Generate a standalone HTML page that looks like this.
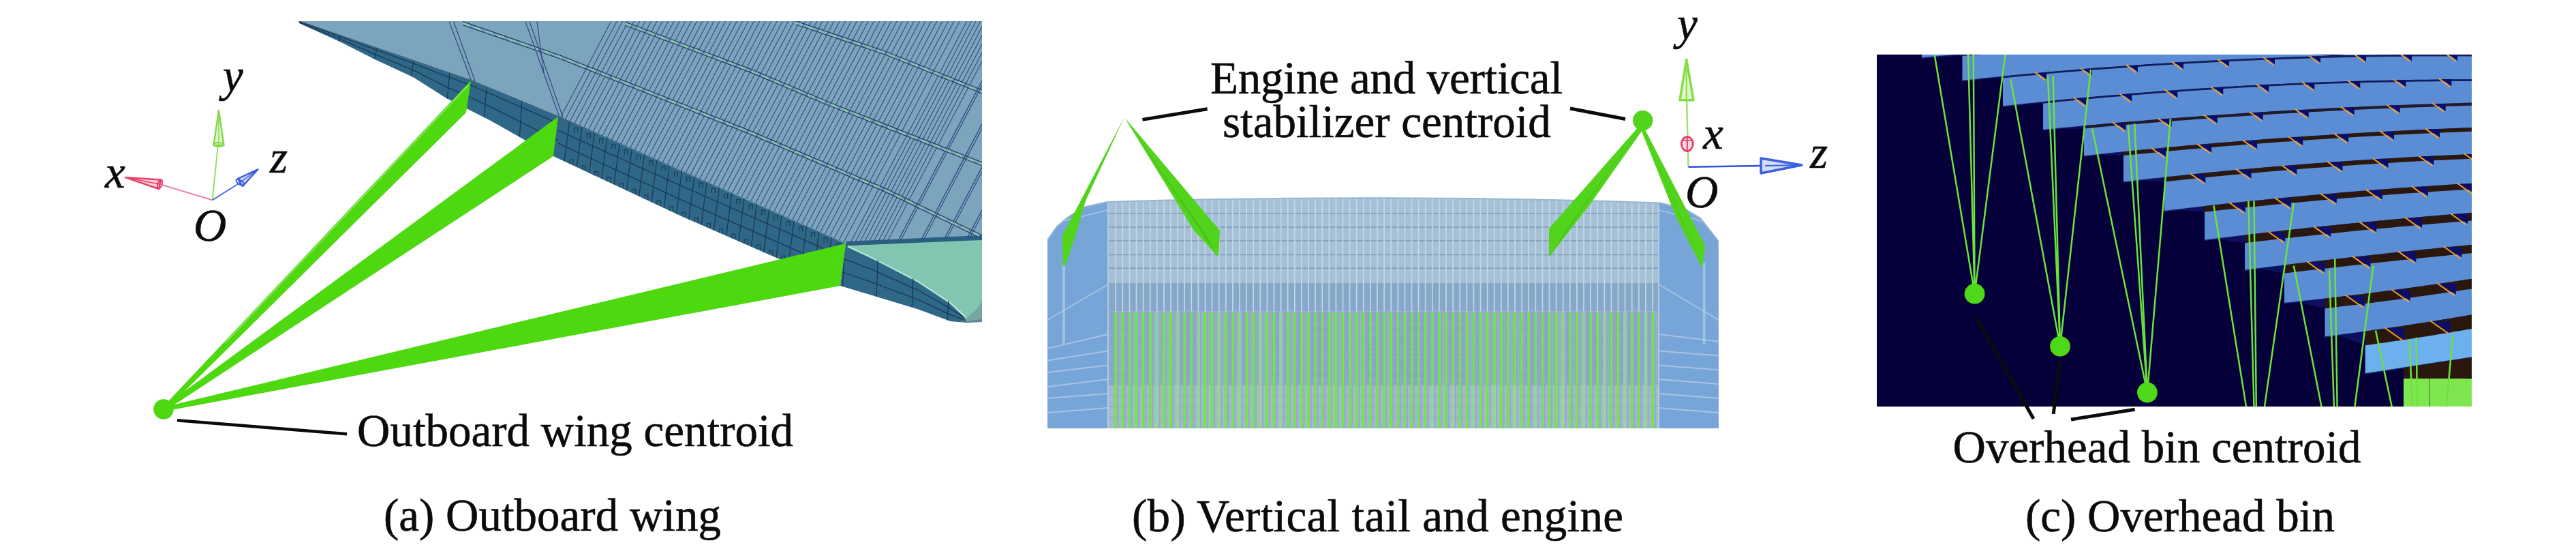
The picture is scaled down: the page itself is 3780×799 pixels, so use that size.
<!DOCTYPE html>
<html><head><meta charset="utf-8">
<style>
html,body{margin:0;padding:0;background:#fff;overflow:hidden;}
svg{display:block;}
text{font-family:"Liberation Serif",serif;font-size:67px;fill:#0b0b0b;stroke:#0b0b0b;stroke-width:0.6px;}
.it{font-style:italic;}
</style></head><body>
<svg width="3780" height="799" viewBox="0 0 3780 799">
<defs>
<clipPath id="cpA"><rect x="0" y="31" width="1441" height="460"/></clipPath>
<clipPath id="cpTop"><polygon points="438,31 1441,31 1441,347 1241,356 819,171 691,118"/></clipPath>
<clipPath id="cpFace"><polygon points="438,31 691,118 819,171 1241,357 1233,419 1000,317 812,229 720,177 655,144 606,113 551,87.4 500,61.7 439,34"/></clipPath>
<clipPath id="cpTip"><polygon points="1241,360 1283,378.5 1347.5,412 1394.5,443 1415,462 1418,472.5 1394.5,471 1347.5,453.4 1288.7,435.7 1233,419"/></clipPath>
<clipPath id="cpB"><path d="M1537,352 L1551,332 L1568,317.7 L1591.5,303.4 L1625,296 Q2030,284 2435.8,297.4 L2471.5,305.8 L2495.4,320 L2521.6,353.5 L2522,628 L1537,628 Z"/></clipPath>
<clipPath id="cpC"><rect x="2754" y="80" width="873" height="516"/></clipPath>
</defs>

<g id="pa">
<polygon points="438,31 1441,31 1441,350 1241,357 819,171 691,118" fill="#7AA5BC"/>
<polygon points="438,31 691,118 819,171 1241,357 1233,419 1000,317 812,229 720,177 655,144 606,113 551,87.4 500,61.7 439,34" fill="#2E6886"/>
<polygon points="1241,357 1441,350 1441,472 1418,473 1394.5,471 1347.5,453.4 1288.7,435.7 1233,419" fill="#2E6886"/>
<polygon points="1244,360 1441,352 1441,468 1425,470 1418,472 1415,462 1394.5,443 1347.5,412 1283,378.5" fill="#82C6B2"/>
<polyline points="1244,361 1283,379.5 1347.5,413 1394.5,444 1415,463 1418,471" fill="none" stroke="#B5E3D3" stroke-width="2.5"/>
<path d="M1410,472 Q1435,455 1441,440 L1441,472 Z" fill="#6F9A98" opacity="0.7"/>
<polygon points="1241,354 1441,345 1441,351 1243,360" fill="#2A5F80"/>
<g clip-path="url(#cpTop)"><line x1="822.4" y1="172.5" x2="896.9" y2="31.0" stroke="#3A4C82" stroke-width="1.15" opacity="1"/><line x1="829.2" y1="175.5" x2="905.3" y2="31.0" stroke="#3A4C82" stroke-width="1.15" opacity="1"/><line x1="836.0" y1="178.5" x2="913.6" y2="31.0" stroke="#3A4C82" stroke-width="1.15" opacity="1"/><line x1="842.8" y1="181.5" x2="922.0" y2="31.0" stroke="#3A4C82" stroke-width="1.15" opacity="1"/><line x1="849.6" y1="184.5" x2="930.4" y2="31.0" stroke="#3A4C82" stroke-width="1.15" opacity="1"/><line x1="856.4" y1="187.5" x2="938.8" y2="31.0" stroke="#3A4C82" stroke-width="1.15" opacity="1"/><line x1="863.2" y1="190.5" x2="947.2" y2="31.0" stroke="#3A4C82" stroke-width="1.15" opacity="1"/><line x1="870.0" y1="193.5" x2="955.6" y2="31.0" stroke="#3A4C82" stroke-width="1.15" opacity="1"/><line x1="876.9" y1="196.5" x2="964.0" y2="31.0" stroke="#3A4C82" stroke-width="1.15" opacity="1"/><line x1="883.7" y1="199.5" x2="972.3" y2="31.0" stroke="#3A4C82" stroke-width="1.15" opacity="1"/><line x1="890.5" y1="202.5" x2="980.7" y2="31.0" stroke="#3A4C82" stroke-width="1.15" opacity="1"/><line x1="897.3" y1="205.5" x2="989.1" y2="31.0" stroke="#3A4C82" stroke-width="1.15" opacity="1"/><line x1="904.1" y1="208.5" x2="997.5" y2="31.0" stroke="#3A4C82" stroke-width="1.15" opacity="1"/><line x1="910.9" y1="211.5" x2="1005.9" y2="31.0" stroke="#3A4C82" stroke-width="1.15" opacity="1"/><line x1="917.7" y1="214.5" x2="1014.3" y2="31.0" stroke="#3A4C82" stroke-width="1.15" opacity="1"/><line x1="924.5" y1="217.5" x2="1022.7" y2="31.0" stroke="#3A4C82" stroke-width="1.15" opacity="1"/><line x1="931.3" y1="220.5" x2="1031.0" y2="31.0" stroke="#3A4C82" stroke-width="1.15" opacity="1"/><line x1="938.1" y1="223.5" x2="1039.4" y2="31.0" stroke="#3A4C82" stroke-width="1.15" opacity="1"/><line x1="944.9" y1="226.5" x2="1047.8" y2="31.0" stroke="#3A4C82" stroke-width="1.15" opacity="1"/><line x1="951.7" y1="229.5" x2="1056.2" y2="31.0" stroke="#3A4C82" stroke-width="1.15" opacity="1"/><line x1="958.5" y1="232.5" x2="1064.6" y2="31.0" stroke="#3A4C82" stroke-width="1.15" opacity="1"/><line x1="965.3" y1="235.5" x2="1073.0" y2="31.0" stroke="#3A4C82" stroke-width="1.15" opacity="1"/><line x1="972.1" y1="238.5" x2="1081.4" y2="31.0" stroke="#3A4C82" stroke-width="1.15" opacity="1"/><line x1="979.0" y1="241.5" x2="1089.7" y2="31.0" stroke="#3A4C82" stroke-width="1.15" opacity="1"/><line x1="985.8" y1="244.5" x2="1098.1" y2="31.0" stroke="#3A4C82" stroke-width="1.15" opacity="1"/><line x1="992.6" y1="247.5" x2="1106.5" y2="31.0" stroke="#3A4C82" stroke-width="1.15" opacity="1"/><line x1="999.4" y1="250.5" x2="1114.9" y2="31.0" stroke="#3A4C82" stroke-width="1.15" opacity="1"/><line x1="1006.2" y1="253.5" x2="1123.3" y2="31.0" stroke="#3A4C82" stroke-width="1.15" opacity="1"/><line x1="1013.0" y1="256.5" x2="1131.7" y2="31.0" stroke="#3A4C82" stroke-width="1.15" opacity="1"/><line x1="1019.8" y1="259.5" x2="1140.1" y2="31.0" stroke="#3A4C82" stroke-width="1.15" opacity="1"/><line x1="1026.6" y1="262.5" x2="1148.4" y2="31.0" stroke="#3A4C82" stroke-width="1.15" opacity="1"/><line x1="1033.4" y1="265.5" x2="1156.8" y2="31.0" stroke="#3A4C82" stroke-width="1.15" opacity="1"/><line x1="1040.2" y1="268.5" x2="1165.2" y2="31.0" stroke="#3A4C82" stroke-width="1.15" opacity="1"/><line x1="1047.0" y1="271.5" x2="1173.6" y2="31.0" stroke="#3A4C82" stroke-width="1.15" opacity="1"/><line x1="1053.8" y1="274.5" x2="1182.0" y2="31.0" stroke="#3A4C82" stroke-width="1.15" opacity="1"/><line x1="1060.6" y1="277.5" x2="1190.4" y2="31.0" stroke="#3A4C82" stroke-width="1.15" opacity="1"/><line x1="1067.4" y1="280.5" x2="1198.8" y2="31.0" stroke="#3A4C82" stroke-width="1.15" opacity="1"/><line x1="1074.2" y1="283.5" x2="1207.1" y2="31.0" stroke="#3A4C82" stroke-width="1.15" opacity="1"/><line x1="1081.0" y1="286.5" x2="1215.5" y2="31.0" stroke="#3A4C82" stroke-width="1.15" opacity="1"/><line x1="1087.9" y1="289.5" x2="1223.9" y2="31.0" stroke="#3A4C82" stroke-width="1.15" opacity="1"/><line x1="1094.7" y1="292.5" x2="1232.3" y2="31.0" stroke="#3A4C82" stroke-width="1.15" opacity="1"/><line x1="1101.5" y1="295.5" x2="1240.7" y2="31.0" stroke="#3A4C82" stroke-width="1.15" opacity="1"/><line x1="1108.3" y1="298.5" x2="1249.1" y2="31.0" stroke="#3A4C82" stroke-width="1.15" opacity="1"/><line x1="1115.1" y1="301.5" x2="1257.4" y2="31.0" stroke="#3A4C82" stroke-width="1.15" opacity="1"/><line x1="1121.9" y1="304.5" x2="1265.8" y2="31.0" stroke="#3A4C82" stroke-width="1.15" opacity="1"/><line x1="1128.7" y1="307.5" x2="1274.2" y2="31.0" stroke="#3A4C82" stroke-width="1.15" opacity="1"/><line x1="1135.5" y1="310.5" x2="1282.6" y2="31.0" stroke="#3A4C82" stroke-width="1.15" opacity="1"/><line x1="1142.3" y1="313.5" x2="1291.0" y2="31.0" stroke="#3A4C82" stroke-width="1.15" opacity="1"/><line x1="1149.1" y1="316.5" x2="1299.4" y2="31.0" stroke="#3A4C82" stroke-width="1.15" opacity="1"/><line x1="1155.9" y1="319.5" x2="1307.8" y2="31.0" stroke="#3A4C82" stroke-width="1.15" opacity="1"/><line x1="1162.7" y1="322.5" x2="1316.1" y2="31.0" stroke="#3A4C82" stroke-width="1.15" opacity="1"/><line x1="1169.5" y1="325.5" x2="1324.5" y2="31.0" stroke="#3A4C82" stroke-width="1.15" opacity="1"/><line x1="1176.3" y1="328.5" x2="1332.9" y2="31.0" stroke="#3A4C82" stroke-width="1.15" opacity="1"/><line x1="1183.1" y1="331.5" x2="1341.3" y2="31.0" stroke="#3A4C82" stroke-width="1.15" opacity="1"/><line x1="1190.0" y1="334.5" x2="1349.7" y2="31.0" stroke="#3A4C82" stroke-width="1.15" opacity="1"/><line x1="1196.8" y1="337.5" x2="1358.1" y2="31.0" stroke="#3A4C82" stroke-width="1.15" opacity="1"/><line x1="1203.6" y1="340.5" x2="1366.5" y2="31.0" stroke="#3A4C82" stroke-width="1.15" opacity="1"/><line x1="1210.4" y1="343.5" x2="1374.8" y2="31.0" stroke="#3A4C82" stroke-width="1.15" opacity="1"/><line x1="1217.2" y1="346.5" x2="1383.2" y2="31.0" stroke="#3A4C82" stroke-width="1.15" opacity="1"/><line x1="1224.0" y1="349.5" x2="1391.6" y2="31.0" stroke="#3A4C82" stroke-width="1.15" opacity="1"/><line x1="1230.8" y1="352.5" x2="1400.0" y2="31.0" stroke="#3A4C82" stroke-width="1.15" opacity="1"/><line x1="1237.6" y1="355.5" x2="1408.4" y2="31.0" stroke="#3A4C82" stroke-width="1.15" opacity="1"/><line x1="1248.0" y1="355.7" x2="1418.9" y2="31.0" stroke="#3A4C82" stroke-width="1.15" opacity="1"/><line x1="1254.8" y1="355.4" x2="1425.5" y2="31.0" stroke="#3A4C82" stroke-width="1.15" opacity="1"/><line x1="1261.6" y1="355.1" x2="1432.2" y2="31.0" stroke="#3A4C82" stroke-width="1.15" opacity="1"/><line x1="1268.4" y1="354.8" x2="1438.8" y2="31.0" stroke="#3A4C82" stroke-width="1.15" opacity="1"/><line x1="1275.2" y1="354.5" x2="1441.0" y2="39.4" stroke="#3A4C82" stroke-width="1.15" opacity="1"/><line x1="1282.0" y1="354.2" x2="1441.0" y2="52.1" stroke="#3A4C82" stroke-width="1.15" opacity="1"/><line x1="1288.8" y1="353.8" x2="1441.0" y2="64.7" stroke="#3A4C82" stroke-width="1.15" opacity="1"/><line x1="1295.6" y1="353.5" x2="1441.0" y2="77.3" stroke="#3A4C82" stroke-width="1.15" opacity="1"/><line x1="1302.4" y1="353.2" x2="1441.0" y2="89.9" stroke="#3A4C82" stroke-width="1.15" opacity="1"/><line x1="1318.0" y1="352.5" x2="1441.0" y2="118.8" stroke="#32467E" stroke-width="1.3" opacity="1"/><line x1="1321.5" y1="352.5" x2="1444.5" y2="118.8" stroke="#32467E" stroke-width="1.1" opacity="1"/><line x1="1352.0" y1="351.0" x2="1441.0" y2="181.9" stroke="#32467E" stroke-width="1.3" opacity="1"/><line x1="1355.5" y1="351.0" x2="1444.5" y2="181.9" stroke="#32467E" stroke-width="1.1" opacity="1"/><line x1="1386.0" y1="349.5" x2="1441.0" y2="245.0" stroke="#32467E" stroke-width="1.3" opacity="1"/><line x1="1389.5" y1="349.5" x2="1444.5" y2="245.0" stroke="#32467E" stroke-width="1.1" opacity="1"/><line x1="1420.0" y1="347.9" x2="1441.0" y2="308.0" stroke="#32467E" stroke-width="1.3" opacity="1"/><line x1="1423.5" y1="347.9" x2="1444.5" y2="308.0" stroke="#32467E" stroke-width="1.1" opacity="1"/><polyline points="1168,31 1300,75.5 1441,132" fill="none" stroke="#27396A" stroke-width="1.3"/><polyline points="1168,36 1300,80.5 1441,137" fill="none" stroke="#27396A" stroke-width="1.3"/><polyline points="1168,33.5 1300,78.0 1441,134.5" fill="none" stroke="#86CCA8" stroke-width="3.2" stroke-dasharray="10 8" opacity="0.75"/><polyline points="917,32 1100,100.6 1217,150 1441,238" fill="none" stroke="#27396A" stroke-width="1.3"/><polyline points="917,37 1100,105.6 1217,155 1441,243" fill="none" stroke="#27396A" stroke-width="1.3"/><polyline points="917,34.5 1100,103.1 1217,152.5 1441,240.5" fill="none" stroke="#86CCA8" stroke-width="3.2" stroke-dasharray="10 8" opacity="0.75"/><polyline points="679,31.6 820,80.4 1100,191.4 1300,276.6 1441,345" fill="none" stroke="#27396A" stroke-width="1.3"/><polyline points="679,36.6 820,85.4 1100,196.4 1300,281.6 1441,350" fill="none" stroke="#27396A" stroke-width="1.3"/><polyline points="679,34.1 820,82.9 1100,193.9 1300,279.1 1441,347.5" fill="none" stroke="#86CCA8" stroke-width="3.2" stroke-dasharray="10 8" opacity="0.75"/><line x1="659.0" y1="31.6" x2="692.0" y2="119.0" stroke="#32467E" stroke-width="1.2" opacity="1"/><line x1="665.7" y1="31.6" x2="697.0" y2="119.0" stroke="#32467E" stroke-width="1.2" opacity="1"/><line x1="771.0" y1="31.6" x2="821.0" y2="172.0" stroke="#32467E" stroke-width="1.2" opacity="1"/><line x1="777.0" y1="31.6" x2="826.0" y2="172.0" stroke="#32467E" stroke-width="1.2" opacity="1"/><line x1="788.0" y1="31.6" x2="798.0" y2="107.0" stroke="#32467E" stroke-width="1.1" opacity="1"/><polyline points="438,31 691,118 819,171 1241,357" fill="none" stroke="#233E66" stroke-width="1.6"/></g>
<g clip-path="url(#cpFace)"><polyline points="440.0,32.1 449.7,35.6 459.4,39.2 469.2,42.7 478.9,46.2 488.6,49.7 498.3,53.2 508.0,56.8 517.7,60.4 527.5,64.0 537.2,67.6 546.9,71.1 556.6,74.7 566.3,78.2 576.1,81.8 585.8,85.3 595.5,88.8 605.2,92.4 614.9,96.1 624.6,99.9 634.4,103.7 644.1,107.5 653.8,111.3 663.5,114.9 673.2,118.5 682.9,122.1 692.7,125.8 702.4,130.0 712.1,134.1 721.8,138.3 731.5,142.6 741.3,146.8 751.0,151.1 760.7,155.4 770.4,159.6 780.1,163.9 789.8,168.1 799.6,172.4 809.3,176.7 819.0,180.8" fill="none" stroke="#1D3558" stroke-width="1.3"/><polyline points="440.0,33.3 449.7,37.2 459.4,41.2 469.2,45.1 478.9,49.1 488.6,53.0 498.3,57.0 508.0,61.2 517.7,65.4 527.5,69.6 537.2,73.8 546.9,78.1 556.6,82.2 566.3,86.2 576.1,90.2 585.8,94.2 595.5,98.2 605.2,102.3 614.9,107.1 624.6,112.1 634.4,117.0 644.1,121.9 653.8,126.9 663.5,131.2 673.2,135.5 682.9,139.7 692.7,144.0 702.4,148.6 712.1,153.1 721.8,157.7 731.5,162.6 741.3,167.4 751.0,172.3 760.7,177.1 770.4,182.0 780.1,186.9 789.8,191.7 799.6,196.6 809.3,201.5 819.0,205.9" fill="none" stroke="#1D3558" stroke-width="1.3"/><polyline points="819.0,191.2 829.8,196.1 840.6,201.0 851.5,205.8 862.3,210.7 873.1,215.6 883.9,220.4 894.7,225.3 905.6,230.2 916.4,235.0 927.2,239.9 938.0,244.8 948.8,249.6 959.7,254.5 970.5,259.4 981.3,264.2 992.1,269.1 1002.9,273.9 1013.8,278.7 1024.6,283.4 1035.4,288.2 1046.2,293.0 1057.1,297.7 1067.9,302.5 1078.7,307.2 1089.5,312.0 1100.3,316.8 1111.2,321.5 1122.0,326.3 1132.8,331.0 1143.6,335.8 1154.4,340.5 1165.3,345.3 1176.1,350.1 1186.9,354.8 1197.7,359.6 1208.5,364.3 1219.4,369.1 1230.2,373.9 1241.0,377.5" fill="none" stroke="#1D3558" stroke-width="1.3"/><polyline points="819.0,210.2 829.8,215.2 840.6,220.1 851.5,225.1 862.3,230.1 873.1,235.0 883.9,240.0 894.7,244.9 905.6,249.9 916.4,254.8 927.2,259.8 938.0,264.8 948.8,269.7 959.7,274.7 970.5,279.6 981.3,284.6 992.1,289.6 1002.9,294.5 1013.8,299.2 1024.6,304.0 1035.4,308.7 1046.2,313.4 1057.1,318.2 1067.9,322.9 1078.7,327.7 1089.5,332.4 1100.3,337.2 1111.2,341.9 1122.0,346.7 1132.8,351.4 1143.6,356.2 1154.4,360.9 1165.3,365.7 1176.1,370.4 1186.9,375.2 1197.7,379.9 1208.5,384.7 1219.4,389.4 1230.2,394.2 1241.0,396.7" fill="none" stroke="#1D3558" stroke-width="1.3"/><line x1="500.0" y1="52.3" x2="496.0" y2="63.7" stroke="#1D3558" stroke-width="1.2" opacity="1"/><line x1="553.0" y1="70.5" x2="549.0" y2="90.3" stroke="#1D3558" stroke-width="1.2" opacity="1"/><line x1="607.0" y1="89.1" x2="603.0" y2="115.6" stroke="#1D3558" stroke-width="1.2" opacity="1"/><line x1="660.0" y1="107.3" x2="656.0" y2="148.5" stroke="#1D3558" stroke-width="1.2" opacity="1"/><line x1="714.0" y1="127.5" x2="710.0" y2="176.0" stroke="#1D3558" stroke-width="1.2" opacity="1"/><line x1="766.0" y1="149.1" x2="762.0" y2="205.0" stroke="#1D3558" stroke-width="1.2" opacity="1"/><line x1="836.0" y1="176.5" x2="827.0" y2="243.2" stroke="#1D3558" stroke-width="1.2" opacity="1"/><line x1="854.3" y1="184.6" x2="845.3" y2="251.8" stroke="#1D3558" stroke-width="1.2" opacity="1"/><line x1="872.6" y1="192.6" x2="863.6" y2="260.4" stroke="#1D3558" stroke-width="1.2" opacity="1"/><line x1="890.9" y1="200.7" x2="881.9" y2="268.9" stroke="#1D3558" stroke-width="1.2" opacity="1"/><line x1="909.2" y1="208.8" x2="900.2" y2="277.5" stroke="#1D3558" stroke-width="1.2" opacity="1"/><line x1="927.5" y1="216.8" x2="918.5" y2="286.1" stroke="#1D3558" stroke-width="1.2" opacity="1"/><line x1="945.8" y1="224.9" x2="936.8" y2="294.6" stroke="#1D3558" stroke-width="1.2" opacity="1"/><line x1="964.1" y1="233.0" x2="955.1" y2="303.2" stroke="#1D3558" stroke-width="1.2" opacity="1"/><line x1="982.4" y1="241.0" x2="973.4" y2="311.8" stroke="#1D3558" stroke-width="1.2" opacity="1"/><line x1="1000.7" y1="249.1" x2="991.7" y2="320.3" stroke="#1D3558" stroke-width="1.2" opacity="1"/><line x1="1019.0" y1="257.2" x2="1010.0" y2="328.3" stroke="#1D3558" stroke-width="1.2" opacity="1"/><line x1="1037.3" y1="265.2" x2="1028.3" y2="336.3" stroke="#1D3558" stroke-width="1.2" opacity="1"/><line x1="1055.6" y1="273.3" x2="1046.6" y2="344.3" stroke="#1D3558" stroke-width="1.2" opacity="1"/><line x1="1073.9" y1="281.3" x2="1064.9" y2="352.4" stroke="#1D3558" stroke-width="1.2" opacity="1"/><line x1="1092.2" y1="289.4" x2="1083.2" y2="360.4" stroke="#1D3558" stroke-width="1.2" opacity="1"/><line x1="1110.5" y1="297.5" x2="1101.5" y2="368.4" stroke="#1D3558" stroke-width="1.2" opacity="1"/><line x1="1128.8" y1="305.5" x2="1119.8" y2="376.4" stroke="#1D3558" stroke-width="1.2" opacity="1"/><line x1="1147.1" y1="313.6" x2="1138.1" y2="384.4" stroke="#1D3558" stroke-width="1.2" opacity="1"/><line x1="1165.4" y1="321.7" x2="1156.4" y2="392.4" stroke="#1D3558" stroke-width="1.2" opacity="1"/><line x1="1183.7" y1="329.7" x2="1174.7" y2="400.4" stroke="#1D3558" stroke-width="1.2" opacity="1"/><line x1="1202.0" y1="337.8" x2="1193.0" y2="408.4" stroke="#1D3558" stroke-width="1.2" opacity="1"/><line x1="1220.3" y1="345.9" x2="1211.3" y2="416.4" stroke="#1D3558" stroke-width="1.2" opacity="1"/><path d="M843.0,194.5 v-7 h5 v7" fill="none" stroke="#1D3558" stroke-width="1.1"/><path d="M836.0,241.4 v-7 h5 v7" fill="none" stroke="#1D3558" stroke-width="1.1"/><path d="M861.3,202.5 v-7 h5 v7" fill="none" stroke="#1D3558" stroke-width="1.1"/><path d="M854.3,250.0 v-7 h5 v7" fill="none" stroke="#1D3558" stroke-width="1.1"/><path d="M879.6,210.6 v-7 h5 v7" fill="none" stroke="#1D3558" stroke-width="1.1"/><path d="M872.6,258.6 v-7 h5 v7" fill="none" stroke="#1D3558" stroke-width="1.1"/><path d="M897.9,218.7 v-7 h5 v7" fill="none" stroke="#1D3558" stroke-width="1.1"/><path d="M890.9,267.1 v-7 h5 v7" fill="none" stroke="#1D3558" stroke-width="1.1"/><path d="M916.2,226.7 v-7 h5 v7" fill="none" stroke="#1D3558" stroke-width="1.1"/><path d="M909.2,275.7 v-7 h5 v7" fill="none" stroke="#1D3558" stroke-width="1.1"/><path d="M934.5,234.8 v-7 h5 v7" fill="none" stroke="#1D3558" stroke-width="1.1"/><path d="M927.5,284.3 v-7 h5 v7" fill="none" stroke="#1D3558" stroke-width="1.1"/><path d="M952.8,242.9 v-7 h5 v7" fill="none" stroke="#1D3558" stroke-width="1.1"/><path d="M945.8,292.8 v-7 h5 v7" fill="none" stroke="#1D3558" stroke-width="1.1"/><path d="M971.1,250.9 v-7 h5 v7" fill="none" stroke="#1D3558" stroke-width="1.1"/><path d="M964.1,301.4 v-7 h5 v7" fill="none" stroke="#1D3558" stroke-width="1.1"/><path d="M989.4,259.0 v-7 h5 v7" fill="none" stroke="#1D3558" stroke-width="1.1"/><path d="M982.4,310.0 v-7 h5 v7" fill="none" stroke="#1D3558" stroke-width="1.1"/><path d="M1007.7,267.1 v-7 h5 v7" fill="none" stroke="#1D3558" stroke-width="1.1"/><path d="M1000.7,318.2 v-7 h5 v7" fill="none" stroke="#1D3558" stroke-width="1.1"/><path d="M1026.0,275.1 v-7 h5 v7" fill="none" stroke="#1D3558" stroke-width="1.1"/><path d="M1019.0,326.3 v-7 h5 v7" fill="none" stroke="#1D3558" stroke-width="1.1"/><path d="M1044.3,283.2 v-7 h5 v7" fill="none" stroke="#1D3558" stroke-width="1.1"/><path d="M1037.3,334.3 v-7 h5 v7" fill="none" stroke="#1D3558" stroke-width="1.1"/><path d="M1062.6,291.3 v-7 h5 v7" fill="none" stroke="#1D3558" stroke-width="1.1"/><path d="M1055.6,342.3 v-7 h5 v7" fill="none" stroke="#1D3558" stroke-width="1.1"/><path d="M1080.9,299.3 v-7 h5 v7" fill="none" stroke="#1D3558" stroke-width="1.1"/><path d="M1073.9,350.3 v-7 h5 v7" fill="none" stroke="#1D3558" stroke-width="1.1"/><path d="M1099.2,307.4 v-7 h5 v7" fill="none" stroke="#1D3558" stroke-width="1.1"/><path d="M1092.2,358.3 v-7 h5 v7" fill="none" stroke="#1D3558" stroke-width="1.1"/><path d="M1117.5,315.4 v-7 h5 v7" fill="none" stroke="#1D3558" stroke-width="1.1"/><path d="M1110.5,366.3 v-7 h5 v7" fill="none" stroke="#1D3558" stroke-width="1.1"/><path d="M1135.8,323.5 v-7 h5 v7" fill="none" stroke="#1D3558" stroke-width="1.1"/><path d="M1128.8,374.3 v-7 h5 v7" fill="none" stroke="#1D3558" stroke-width="1.1"/><path d="M1154.1,331.6 v-7 h5 v7" fill="none" stroke="#1D3558" stroke-width="1.1"/><path d="M1147.1,382.3 v-7 h5 v7" fill="none" stroke="#1D3558" stroke-width="1.1"/><path d="M1172.4,339.6 v-7 h5 v7" fill="none" stroke="#1D3558" stroke-width="1.1"/><path d="M1165.4,390.3 v-7 h5 v7" fill="none" stroke="#1D3558" stroke-width="1.1"/><path d="M1190.7,347.7 v-7 h5 v7" fill="none" stroke="#1D3558" stroke-width="1.1"/><path d="M1183.7,398.4 v-7 h5 v7" fill="none" stroke="#1D3558" stroke-width="1.1"/><path d="M1209.0,355.8 v-7 h5 v7" fill="none" stroke="#1D3558" stroke-width="1.1"/><path d="M1202.0,406.4 v-7 h5 v7" fill="none" stroke="#1D3558" stroke-width="1.1"/><path d="M1227.3,363.8 v-7 h5 v7" fill="none" stroke="#1D3558" stroke-width="1.1"/><path d="M1220.3,414.4 v-7 h5 v7" fill="none" stroke="#1D3558" stroke-width="1.1"/></g>
<g clip-path="url(#cpTip)"><polyline points="1233.0,379.5 1239.4,380.1 1245.9,382.2 1252.3,384.7 1258.8,387.3 1265.2,389.8 1271.7,392.4 1278.1,394.9 1284.6,397.5 1291.0,400.4 1297.5,403.3 1303.9,406.2 1310.4,409.1 1316.8,411.9 1323.3,414.8 1329.7,417.7 1336.2,420.6 1342.6,423.5 1349.1,426.5 1355.5,430.2 1362.0,433.8 1368.4,437.5 1374.9,441.1 1381.3,444.8 1387.8,448.4 1394.2,452.1 1400.7,456.2 1407.1,460.4 1413.6,464.6 1420.0,472.3" fill="none" stroke="#1D3558" stroke-width="1.3"/><polyline points="1233.0,398.9 1239.4,400.2 1245.9,402.2 1252.3,404.5 1258.8,406.7 1265.2,409.0 1271.7,411.2 1278.1,413.4 1284.6,415.7 1291.0,418.1 1297.5,420.6 1303.9,423.0 1310.4,425.4 1316.8,427.8 1323.3,430.2 1329.7,432.7 1336.2,435.1 1342.6,437.5 1349.1,440.1 1355.5,443.1 1362.0,446.1 1368.4,449.2 1374.9,452.2 1381.3,455.3 1387.8,458.3 1394.2,461.3 1400.7,463.7 1407.1,466.1 1413.6,468.5 1420.0,472.7" fill="none" stroke="#1D3558" stroke-width="1.3"/><line x1="1240.0" y1="340.0" x2="1234.0" y2="480.0" stroke="#1D3558" stroke-width="1.2" opacity="1"/><line x1="1290.0" y1="340.0" x2="1284.0" y2="480.0" stroke="#1D3558" stroke-width="1.2" opacity="1"/><line x1="1343.0" y1="340.0" x2="1337.0" y2="480.0" stroke="#1D3558" stroke-width="1.2" opacity="1"/><line x1="1396.0" y1="340.0" x2="1390.0" y2="480.0" stroke="#1D3558" stroke-width="1.2" opacity="1"/></g>
<polygon points="237.8,598 691,118 684,165 242.2,602" fill="#4DD810"/>
<line x1="330" y1="503" x2="687" y2="125" stroke="#C8F0A8" stroke-width="1.3" opacity="0.7"/>
<polygon points="238.2,597.6 819,171 812,229 241.8,602.4" fill="#4DD810"/>
<polygon points="239.3,597.1 1241,357 1233,419 240.7,602.9" fill="#4DD810"/>
<circle cx="240" cy="600" r="14.7" fill="#4DD810"/>
<line x1="260" y1="616.3" x2="509" y2="636.3" stroke="#0b0b0b" stroke-width="4.5"/>
<line x1="311.7" y1="293.3" x2="236" y2="270.5" stroke="#F080A0" stroke-width="2"/>
<line x1="311.7" y1="293.3" x2="320" y2="212" stroke="#98E060" stroke-width="2"/>
<line x1="311.7" y1="293.3" x2="352" y2="268" stroke="#5070E0" stroke-width="2"/>
<polygon points="184,260.2 236,263.5 233,277" fill="#FBD0D8" stroke="#E8406A" stroke-width="2.4" stroke-linejoin="round"/>
<ellipse cx="234.5" cy="270" rx="3" ry="7" fill="none" stroke="#E8406A" stroke-width="2" transform="rotate(17 234.5 270)"/>
<line x1="186" y1="260.5" x2="234" y2="270" stroke="#E8406A" stroke-width="1.5"/>
<polygon points="321,162 313.5,213 328.5,213" fill="#E0F7CC" stroke="#80D848" stroke-width="2.4" stroke-linejoin="round"/>
<ellipse cx="321" cy="212" rx="7" ry="3" fill="none" stroke="#80D848" stroke-width="2"/>
<line x1="321" y1="165" x2="321" y2="212" stroke="#80D848" stroke-width="1.5"/>
<polygon points="378.4,248.4 349,262 356,273" fill="#D4DCF8" stroke="#3A5CE0" stroke-width="2.4" stroke-linejoin="round"/>
<ellipse cx="352.5" cy="267.5" rx="3" ry="7" fill="none" stroke="#3A5CE0" stroke-width="2" transform="rotate(-57 352.5 267.5)"/>
<line x1="376" y1="250" x2="353" y2="267" stroke="#3A5CE0" stroke-width="1.5"/>
<text x="524" y="654">Outboard wing centroid</text>
<text x="563" y="778">(a) Outboard wing</text>
<text class="it" x="154" y="275">x</text>
<text class="it" x="327" y="134">y</text>
<text class="it" x="396" y="253">z</text>
<text class="it" x="284" y="353">O</text>
</g>
<g id="pb">
<path d="M1537,352 L1551,332 L1568,317.7 L1591.5,303.4 L1625,296 Q2030,284 2435.8,297.4 L2471.5,305.8 L2495.4,320 L2521.6,353.5 L2522,628 L1537,628 Z" fill="#A6C0D6"/>
<g clip-path="url(#cpB)"><rect x="1530" y="280" width="96" height="360" fill="#77A5D8"/><rect x="2434" y="280" width="96" height="360" fill="#77A5D8"/><line x1="1537" y1="469" x2="1626" y2="417" stroke="#AFCBE6" stroke-width="1.8" opacity="0.85"/><line x1="1537" y1="511" x2="1626" y2="490" stroke="#AFCBE6" stroke-width="1.8" opacity="0.85"/><line x1="1537" y1="528.5" x2="1626" y2="514.5" stroke="#AFCBE6" stroke-width="1.8" opacity="0.85"/><line x1="1537" y1="546" x2="1626" y2="535.5" stroke="#AFCBE6" stroke-width="1.8" opacity="0.85"/><line x1="1537" y1="567" x2="1626" y2="556" stroke="#AFCBE6" stroke-width="1.8" opacity="0.85"/><line x1="1537" y1="584" x2="1626" y2="577" stroke="#AFCBE6" stroke-width="1.8" opacity="0.85"/><line x1="1537" y1="605" x2="1626" y2="598" stroke="#AFCBE6" stroke-width="1.8" opacity="0.85"/><line x1="1537" y1="330" x2="1626" y2="308" stroke="#AFCBE6" stroke-width="1.8" opacity="0.85"/><line x1="2434" y1="417" x2="2522" y2="469" stroke="#AFCBE6" stroke-width="1.8" opacity="0.85"/><line x1="2434" y1="490" x2="2522" y2="500.6" stroke="#AFCBE6" stroke-width="1.8" opacity="0.85"/><line x1="2434" y1="514.5" x2="2522" y2="521.5" stroke="#AFCBE6" stroke-width="1.8" opacity="0.85"/><line x1="2434" y1="535.5" x2="2522" y2="542.4" stroke="#AFCBE6" stroke-width="1.8" opacity="0.85"/><line x1="2434" y1="556" x2="2522" y2="563" stroke="#AFCBE6" stroke-width="1.8" opacity="0.85"/><line x1="2434" y1="577" x2="2522" y2="584" stroke="#AFCBE6" stroke-width="1.8" opacity="0.85"/><line x1="2434" y1="598" x2="2522" y2="605" stroke="#AFCBE6" stroke-width="1.8" opacity="0.85"/><line x1="2434" y1="308" x2="2522" y2="330" stroke="#AFCBE6" stroke-width="1.8" opacity="0.85"/><line x1="1561" y1="385" x2="1561" y2="504" stroke="#B8D4EC" stroke-width="4" opacity="0.6"/><line x1="2500.7" y1="385" x2="2500.7" y2="504" stroke="#B8D4EC" stroke-width="4" opacity="0.6"/><rect x="1626" y="415" width="808" height="42" fill="#86A8C8"/><rect x="1626" y="457" width="808" height="108" fill="#88A6C8"/><rect x="1626" y="565" width="808" height="63" fill="#A2BACE"/><line x1="1626" y1="313" x2="2434" y2="313" stroke="#8098B6" stroke-width="1.6"/><line x1="1626" y1="333" x2="2434" y2="333" stroke="#8098B6" stroke-width="1.6"/><line x1="1626" y1="353" x2="2434" y2="353" stroke="#8098B6" stroke-width="1.6"/><line x1="1626" y1="373.5" x2="2434" y2="373.5" stroke="#8098B6" stroke-width="1.6"/><line x1="1626" y1="393.3" x2="2434" y2="393.3" stroke="#8098B6" stroke-width="1.6"/><line x1="1626" y1="476" x2="2434" y2="476" stroke="#A0B4DC" stroke-width="1.3" opacity="0.7"/><line x1="1626" y1="492" x2="2434" y2="492" stroke="#A0B4DC" stroke-width="1.3" opacity="0.7"/><line x1="1626" y1="508" x2="2434" y2="508" stroke="#A0B4DC" stroke-width="1.3" opacity="0.7"/><line x1="1626" y1="524" x2="2434" y2="524" stroke="#A0B4DC" stroke-width="1.3" opacity="0.7"/><line x1="1626" y1="540" x2="2434" y2="540" stroke="#A0B4DC" stroke-width="1.3" opacity="0.7"/><line x1="1626" y1="556" x2="2434" y2="556" stroke="#A0B4DC" stroke-width="1.3" opacity="0.7"/><line x1="1626" y1="580" x2="2434" y2="580" stroke="#909CD8" stroke-width="1.5" opacity="0.7"/><line x1="1626" y1="596" x2="2434" y2="596" stroke="#909CD8" stroke-width="1.5" opacity="0.7"/><line x1="1626" y1="612" x2="2434" y2="612" stroke="#909CD8" stroke-width="1.5" opacity="0.7"/><rect x="1638.6" y="457" width="7" height="171" fill="#90D890" opacity="0.30"/><rect x="1658.8" y="457" width="7" height="171" fill="#90D890" opacity="0.41"/><rect x="1668.8" y="457" width="7" height="171" fill="#90D890" opacity="0.27"/><rect x="1689.0" y="457" width="7" height="171" fill="#90D890" opacity="0.38"/><rect x="1699.1" y="457" width="7" height="171" fill="#90D890" opacity="0.28"/><rect x="1709.2" y="457" width="7" height="171" fill="#90D890" opacity="0.50"/><rect x="1719.2" y="457" width="7" height="171" fill="#90D890" opacity="0.32"/><rect x="1759.6" y="457" width="7" height="171" fill="#90D890" opacity="0.54"/><rect x="1769.6" y="457" width="7" height="171" fill="#90D890" opacity="0.51"/><rect x="1779.7" y="457" width="7" height="171" fill="#90D890" opacity="0.29"/><rect x="1789.8" y="457" width="7" height="171" fill="#90D890" opacity="0.34"/><rect x="1810.0" y="457" width="7" height="171" fill="#90D890" opacity="0.42"/><rect x="1830.1" y="457" width="7" height="171" fill="#90D890" opacity="0.41"/><rect x="1840.2" y="457" width="7" height="171" fill="#90D890" opacity="0.27"/><rect x="1850.3" y="457" width="7" height="171" fill="#90D890" opacity="0.45"/><rect x="1860.4" y="457" width="7" height="171" fill="#90D890" opacity="0.34"/><rect x="1890.6" y="457" width="7" height="171" fill="#90D890" opacity="0.49"/><rect x="1910.8" y="457" width="7" height="171" fill="#90D890" opacity="0.42"/><rect x="1951.1" y="457" width="7" height="171" fill="#90D890" opacity="0.54"/><rect x="1961.2" y="457" width="7" height="171" fill="#90D890" opacity="0.38"/><rect x="1981.3" y="457" width="7" height="171" fill="#90D890" opacity="0.40"/><rect x="1991.4" y="457" width="7" height="171" fill="#90D890" opacity="0.45"/><rect x="2031.7" y="457" width="7" height="171" fill="#90D890" opacity="0.46"/><rect x="2112.4" y="457" width="7" height="171" fill="#90D890" opacity="0.46"/><rect x="2152.7" y="457" width="7" height="171" fill="#90D890" opacity="0.37"/><rect x="2172.8" y="457" width="7" height="171" fill="#90D890" opacity="0.39"/><rect x="2182.9" y="457" width="7" height="171" fill="#90D890" opacity="0.29"/><rect x="2193.0" y="457" width="7" height="171" fill="#90D890" opacity="0.48"/><rect x="2203.1" y="457" width="7" height="171" fill="#90D890" opacity="0.32"/><rect x="2213.2" y="457" width="7" height="171" fill="#90D890" opacity="0.51"/><rect x="2223.2" y="457" width="7" height="171" fill="#90D890" opacity="0.38"/><rect x="2273.6" y="457" width="7" height="171" fill="#90D890" opacity="0.37"/><rect x="2283.7" y="457" width="7" height="171" fill="#90D890" opacity="0.52"/><rect x="2303.9" y="457" width="7" height="171" fill="#90D890" opacity="0.30"/><rect x="2314.0" y="457" width="7" height="171" fill="#90D890" opacity="0.32"/><rect x="2344.2" y="457" width="7" height="171" fill="#90D890" opacity="0.25"/><rect x="2354.3" y="457" width="7" height="171" fill="#90D890" opacity="0.36"/><rect x="2424.8" y="457" width="7" height="171" fill="#90D890" opacity="0.52"/><line x1="1637.2" y1="290" x2="1637.2" y2="457" stroke="#C0D8E6" stroke-width="1.7"/><line x1="1640.7" y1="450" x2="1640.7" y2="628" stroke="#9C9CEC" stroke-width="2.2" opacity="0.85"/><line x1="1637.2" y1="457" x2="1637.2" y2="565" stroke="#74E640" stroke-width="3.4"/><line x1="1637.2" y1="565" x2="1637.2" y2="628" stroke="#74E640" stroke-width="3.4"/><line x1="1647.3" y1="290" x2="1647.3" y2="457" stroke="#C0D8E6" stroke-width="1.7"/><line x1="1650.8" y1="450" x2="1650.8" y2="628" stroke="#9C9CEC" stroke-width="2.2" opacity="0.85"/><line x1="1647.3" y1="457" x2="1647.3" y2="565" stroke="#74E640" stroke-width="3.4"/><line x1="1647.3" y1="565" x2="1647.3" y2="628" stroke="#74E640" stroke-width="3.4"/><line x1="1657.4" y1="290" x2="1657.4" y2="457" stroke="#C0D8E6" stroke-width="1.7"/><line x1="1660.9" y1="450" x2="1660.9" y2="628" stroke="#9C9CEC" stroke-width="2.2" opacity="0.85"/><line x1="1657.4" y1="457" x2="1657.4" y2="565" stroke="#74E640" stroke-width="3.4"/><line x1="1657.4" y1="565" x2="1657.4" y2="628" stroke="#74E640" stroke-width="3.4"/><line x1="1667.5" y1="290" x2="1667.5" y2="457" stroke="#C0D8E6" stroke-width="1.7"/><line x1="1671.0" y1="450" x2="1671.0" y2="628" stroke="#9C9CEC" stroke-width="2.2" opacity="0.85"/><line x1="1667.5" y1="457" x2="1667.5" y2="565" stroke="#74E640" stroke-width="3.4"/><line x1="1667.5" y1="565" x2="1667.5" y2="628" stroke="#74E640" stroke-width="3.4"/><line x1="1677.6" y1="290" x2="1677.6" y2="457" stroke="#C0D8E6" stroke-width="1.7"/><line x1="1681.1" y1="450" x2="1681.1" y2="628" stroke="#9C9CEC" stroke-width="2.2" opacity="0.85"/><line x1="1677.6" y1="457" x2="1677.6" y2="565" stroke="#74E640" stroke-width="3.4"/><line x1="1677.6" y1="565" x2="1677.6" y2="628" stroke="#74E640" stroke-width="3.4"/><line x1="1687.7" y1="290" x2="1687.7" y2="457" stroke="#C0D8E6" stroke-width="1.7"/><line x1="1691.2" y1="450" x2="1691.2" y2="628" stroke="#9C9CEC" stroke-width="2.2" opacity="0.85"/><line x1="1687.7" y1="457" x2="1687.7" y2="565" stroke="#74E640" stroke-width="3.4"/><line x1="1687.7" y1="565" x2="1687.7" y2="628" stroke="#74E640" stroke-width="3.4"/><line x1="1697.8" y1="290" x2="1697.8" y2="457" stroke="#C0D8E6" stroke-width="1.7"/><line x1="1701.3" y1="450" x2="1701.3" y2="628" stroke="#9C9CEC" stroke-width="2.2" opacity="0.85"/><line x1="1697.8" y1="457" x2="1697.8" y2="565" stroke="#94DC8C" stroke-width="5" opacity="0.75"/><line x1="1697.8" y1="565" x2="1697.8" y2="628" stroke="#94DC8C" stroke-width="5" opacity="0.75"/><line x1="1707.9" y1="290" x2="1707.9" y2="457" stroke="#C0D8E6" stroke-width="1.7"/><line x1="1711.4" y1="450" x2="1711.4" y2="628" stroke="#9C9CEC" stroke-width="2.2" opacity="0.85"/><line x1="1707.9" y1="457" x2="1707.9" y2="565" stroke="#74E640" stroke-width="3.4"/><line x1="1707.9" y1="565" x2="1707.9" y2="628" stroke="#74E640" stroke-width="3.4"/><line x1="1718.0" y1="290" x2="1718.0" y2="457" stroke="#C0D8E6" stroke-width="1.7"/><line x1="1721.5" y1="450" x2="1721.5" y2="628" stroke="#9C9CEC" stroke-width="2.2" opacity="0.85"/><line x1="1718.0" y1="457" x2="1718.0" y2="565" stroke="#74E640" stroke-width="3.4"/><line x1="1718.0" y1="565" x2="1718.0" y2="628" stroke="#74E640" stroke-width="3.4"/><line x1="1728.1" y1="290" x2="1728.1" y2="457" stroke="#C0D8E6" stroke-width="1.7"/><line x1="1731.6" y1="450" x2="1731.6" y2="628" stroke="#9C9CEC" stroke-width="2.2" opacity="0.85"/><line x1="1728.1" y1="457" x2="1728.1" y2="565" stroke="#94DC8C" stroke-width="5" opacity="0.75"/><line x1="1728.1" y1="565" x2="1728.1" y2="628" stroke="#94DC8C" stroke-width="5" opacity="0.75"/><line x1="1738.2" y1="290" x2="1738.2" y2="457" stroke="#C0D8E6" stroke-width="1.7"/><line x1="1741.7" y1="450" x2="1741.7" y2="628" stroke="#9C9CEC" stroke-width="2.2" opacity="0.85"/><line x1="1738.2" y1="457" x2="1738.2" y2="565" stroke="#74E640" stroke-width="3.4"/><line x1="1738.2" y1="565" x2="1738.2" y2="628" stroke="#74E640" stroke-width="3.4"/><line x1="1748.3" y1="290" x2="1748.3" y2="457" stroke="#C0D8E6" stroke-width="1.7"/><line x1="1751.8" y1="450" x2="1751.8" y2="628" stroke="#9C9CEC" stroke-width="2.2" opacity="0.85"/><line x1="1748.3" y1="457" x2="1748.3" y2="565" stroke="#74E640" stroke-width="3.4"/><line x1="1748.3" y1="565" x2="1748.3" y2="628" stroke="#74E640" stroke-width="3.4"/><line x1="1758.4" y1="290" x2="1758.4" y2="457" stroke="#C0D8E6" stroke-width="1.7"/><line x1="1761.9" y1="450" x2="1761.9" y2="628" stroke="#9C9CEC" stroke-width="2.2" opacity="0.85"/><line x1="1758.4" y1="457" x2="1758.4" y2="565" stroke="#94DC8C" stroke-width="5" opacity="0.75"/><line x1="1758.4" y1="565" x2="1758.4" y2="628" stroke="#94DC8C" stroke-width="5" opacity="0.75"/><line x1="1768.5" y1="290" x2="1768.5" y2="457" stroke="#C0D8E6" stroke-width="1.7"/><line x1="1772.0" y1="450" x2="1772.0" y2="628" stroke="#9C9CEC" stroke-width="2.2" opacity="0.85"/><line x1="1768.5" y1="457" x2="1768.5" y2="565" stroke="#74E640" stroke-width="3.4"/><line x1="1768.5" y1="565" x2="1768.5" y2="628" stroke="#74E640" stroke-width="3.4"/><line x1="1778.6" y1="290" x2="1778.6" y2="457" stroke="#C0D8E6" stroke-width="1.7"/><line x1="1782.1" y1="450" x2="1782.1" y2="628" stroke="#9C9CEC" stroke-width="2.2" opacity="0.85"/><line x1="1778.6" y1="457" x2="1778.6" y2="565" stroke="#74E640" stroke-width="3.4"/><line x1="1778.6" y1="565" x2="1778.6" y2="628" stroke="#74E640" stroke-width="3.4"/><line x1="1788.7" y1="290" x2="1788.7" y2="457" stroke="#C0D8E6" stroke-width="1.7"/><line x1="1792.2" y1="450" x2="1792.2" y2="628" stroke="#9C9CEC" stroke-width="2.2" opacity="0.85"/><line x1="1788.7" y1="457" x2="1788.7" y2="565" stroke="#94DC8C" stroke-width="5" opacity="0.75"/><line x1="1788.7" y1="565" x2="1788.7" y2="628" stroke="#94DC8C" stroke-width="5" opacity="0.75"/><line x1="1798.8" y1="290" x2="1798.8" y2="457" stroke="#C0D8E6" stroke-width="1.7"/><line x1="1802.3" y1="450" x2="1802.3" y2="628" stroke="#9C9CEC" stroke-width="2.2" opacity="0.85"/><line x1="1798.8" y1="457" x2="1798.8" y2="565" stroke="#74E640" stroke-width="3.4"/><line x1="1798.8" y1="565" x2="1798.8" y2="628" stroke="#74E640" stroke-width="3.4"/><line x1="1808.9" y1="290" x2="1808.9" y2="457" stroke="#C0D8E6" stroke-width="1.7"/><line x1="1812.4" y1="450" x2="1812.4" y2="628" stroke="#9C9CEC" stroke-width="2.2" opacity="0.85"/><line x1="1808.9" y1="457" x2="1808.9" y2="565" stroke="#74E640" stroke-width="3.4"/><line x1="1808.9" y1="565" x2="1808.9" y2="628" stroke="#74E640" stroke-width="3.4"/><line x1="1819.0" y1="290" x2="1819.0" y2="457" stroke="#C0D8E6" stroke-width="1.7"/><line x1="1822.5" y1="450" x2="1822.5" y2="628" stroke="#9C9CEC" stroke-width="2.2" opacity="0.85"/><line x1="1819.0" y1="457" x2="1819.0" y2="565" stroke="#94DC8C" stroke-width="5" opacity="0.75"/><line x1="1819.0" y1="565" x2="1819.0" y2="628" stroke="#94DC8C" stroke-width="5" opacity="0.75"/><line x1="1829.1" y1="290" x2="1829.1" y2="457" stroke="#C0D8E6" stroke-width="1.7"/><line x1="1832.6" y1="450" x2="1832.6" y2="628" stroke="#9C9CEC" stroke-width="2.2" opacity="0.85"/><line x1="1829.1" y1="457" x2="1829.1" y2="565" stroke="#74E640" stroke-width="3.4"/><line x1="1829.1" y1="565" x2="1829.1" y2="628" stroke="#74E640" stroke-width="3.4"/><line x1="1839.2" y1="290" x2="1839.2" y2="457" stroke="#C0D8E6" stroke-width="1.7"/><line x1="1842.7" y1="450" x2="1842.7" y2="628" stroke="#9C9CEC" stroke-width="2.2" opacity="0.85"/><line x1="1839.2" y1="457" x2="1839.2" y2="565" stroke="#74E640" stroke-width="3.4"/><line x1="1839.2" y1="565" x2="1839.2" y2="628" stroke="#74E640" stroke-width="3.4"/><line x1="1849.3" y1="290" x2="1849.3" y2="457" stroke="#C0D8E6" stroke-width="1.7"/><line x1="1852.8" y1="450" x2="1852.8" y2="628" stroke="#9C9CEC" stroke-width="2.2" opacity="0.85"/><line x1="1849.3" y1="457" x2="1849.3" y2="565" stroke="#94DC8C" stroke-width="5" opacity="0.75"/><line x1="1849.3" y1="565" x2="1849.3" y2="628" stroke="#94DC8C" stroke-width="5" opacity="0.75"/><line x1="1859.4" y1="290" x2="1859.4" y2="457" stroke="#C0D8E6" stroke-width="1.7"/><line x1="1862.9" y1="450" x2="1862.9" y2="628" stroke="#9C9CEC" stroke-width="2.2" opacity="0.85"/><line x1="1859.4" y1="457" x2="1859.4" y2="565" stroke="#74E640" stroke-width="3.4"/><line x1="1859.4" y1="565" x2="1859.4" y2="628" stroke="#74E640" stroke-width="3.4"/><line x1="1869.5" y1="290" x2="1869.5" y2="457" stroke="#C0D8E6" stroke-width="1.7"/><line x1="1873.0" y1="450" x2="1873.0" y2="628" stroke="#9C9CEC" stroke-width="2.2" opacity="0.85"/><line x1="1869.5" y1="457" x2="1869.5" y2="565" stroke="#74E640" stroke-width="3.4"/><line x1="1869.5" y1="565" x2="1869.5" y2="628" stroke="#74E640" stroke-width="3.4"/><line x1="1879.6" y1="290" x2="1879.6" y2="457" stroke="#C0D8E6" stroke-width="1.7"/><line x1="1883.1" y1="450" x2="1883.1" y2="628" stroke="#9C9CEC" stroke-width="2.2" opacity="0.85"/><line x1="1879.6" y1="457" x2="1879.6" y2="565" stroke="#94DC8C" stroke-width="5" opacity="0.75"/><line x1="1879.6" y1="565" x2="1879.6" y2="628" stroke="#94DC8C" stroke-width="5" opacity="0.75"/><line x1="1889.7" y1="290" x2="1889.7" y2="457" stroke="#C0D8E6" stroke-width="1.7"/><line x1="1893.2" y1="450" x2="1893.2" y2="628" stroke="#9C9CEC" stroke-width="2.2" opacity="0.85"/><line x1="1889.7" y1="457" x2="1889.7" y2="565" stroke="#74E640" stroke-width="3.4"/><line x1="1889.7" y1="565" x2="1889.7" y2="628" stroke="#74E640" stroke-width="3.4"/><line x1="1899.8" y1="290" x2="1899.8" y2="457" stroke="#C0D8E6" stroke-width="1.7"/><line x1="1903.3" y1="450" x2="1903.3" y2="628" stroke="#9C9CEC" stroke-width="2.2" opacity="0.85"/><line x1="1899.8" y1="457" x2="1899.8" y2="565" stroke="#74E640" stroke-width="3.4"/><line x1="1899.8" y1="565" x2="1899.8" y2="628" stroke="#74E640" stroke-width="3.4"/><line x1="1909.9" y1="290" x2="1909.9" y2="457" stroke="#C0D8E6" stroke-width="1.7"/><line x1="1913.4" y1="450" x2="1913.4" y2="628" stroke="#9C9CEC" stroke-width="2.2" opacity="0.85"/><line x1="1909.9" y1="457" x2="1909.9" y2="565" stroke="#74E640" stroke-width="3.4"/><line x1="1909.9" y1="565" x2="1909.9" y2="628" stroke="#74E640" stroke-width="3.4"/><line x1="1920.0" y1="290" x2="1920.0" y2="457" stroke="#C0D8E6" stroke-width="1.7"/><line x1="1923.5" y1="450" x2="1923.5" y2="628" stroke="#9C9CEC" stroke-width="2.2" opacity="0.85"/><line x1="1920.0" y1="457" x2="1920.0" y2="565" stroke="#74E640" stroke-width="3.4"/><line x1="1920.0" y1="565" x2="1920.0" y2="628" stroke="#74E640" stroke-width="3.4"/><line x1="1930.1" y1="290" x2="1930.1" y2="457" stroke="#C0D8E6" stroke-width="1.7"/><line x1="1933.6" y1="450" x2="1933.6" y2="628" stroke="#9C9CEC" stroke-width="2.2" opacity="0.85"/><line x1="1930.1" y1="457" x2="1930.1" y2="565" stroke="#74E640" stroke-width="3.4"/><line x1="1930.1" y1="565" x2="1930.1" y2="628" stroke="#74E640" stroke-width="3.4"/><line x1="1940.2" y1="290" x2="1940.2" y2="457" stroke="#C0D8E6" stroke-width="1.7"/><line x1="1943.7" y1="450" x2="1943.7" y2="628" stroke="#9C9CEC" stroke-width="2.2" opacity="0.85"/><line x1="1940.2" y1="457" x2="1940.2" y2="565" stroke="#74E640" stroke-width="3.4"/><line x1="1940.2" y1="565" x2="1940.2" y2="628" stroke="#74E640" stroke-width="3.4"/><line x1="1950.3" y1="290" x2="1950.3" y2="457" stroke="#C0D8E6" stroke-width="1.7"/><line x1="1953.8" y1="450" x2="1953.8" y2="628" stroke="#9C9CEC" stroke-width="2.2" opacity="0.85"/><line x1="1950.3" y1="457" x2="1950.3" y2="565" stroke="#74E640" stroke-width="3.4"/><line x1="1950.3" y1="565" x2="1950.3" y2="628" stroke="#74E640" stroke-width="3.4"/><line x1="1960.4" y1="290" x2="1960.4" y2="457" stroke="#C0D8E6" stroke-width="1.7"/><line x1="1963.9" y1="450" x2="1963.9" y2="628" stroke="#9C9CEC" stroke-width="2.2" opacity="0.85"/><line x1="1960.4" y1="457" x2="1960.4" y2="565" stroke="#74E640" stroke-width="3.4"/><line x1="1960.4" y1="565" x2="1960.4" y2="628" stroke="#74E640" stroke-width="3.4"/><line x1="1970.5" y1="290" x2="1970.5" y2="457" stroke="#C0D8E6" stroke-width="1.7"/><line x1="1974.0" y1="450" x2="1974.0" y2="628" stroke="#9C9CEC" stroke-width="2.2" opacity="0.85"/><line x1="1970.5" y1="457" x2="1970.5" y2="565" stroke="#74E640" stroke-width="3.4"/><line x1="1970.5" y1="565" x2="1970.5" y2="628" stroke="#74E640" stroke-width="3.4"/><line x1="1980.6" y1="290" x2="1980.6" y2="457" stroke="#C0D8E6" stroke-width="1.7"/><line x1="1984.1" y1="450" x2="1984.1" y2="628" stroke="#9C9CEC" stroke-width="2.2" opacity="0.85"/><line x1="1980.6" y1="457" x2="1980.6" y2="565" stroke="#74E640" stroke-width="3.4"/><line x1="1980.6" y1="565" x2="1980.6" y2="628" stroke="#74E640" stroke-width="3.4"/><line x1="1990.7" y1="290" x2="1990.7" y2="457" stroke="#C0D8E6" stroke-width="1.7"/><line x1="1994.2" y1="450" x2="1994.2" y2="628" stroke="#9C9CEC" stroke-width="2.2" opacity="0.85"/><line x1="1990.7" y1="457" x2="1990.7" y2="565" stroke="#74E640" stroke-width="3.4"/><line x1="1990.7" y1="565" x2="1990.7" y2="628" stroke="#74E640" stroke-width="3.4"/><line x1="2000.8" y1="290" x2="2000.8" y2="457" stroke="#C0D8E6" stroke-width="1.7"/><line x1="2004.3" y1="450" x2="2004.3" y2="628" stroke="#9C9CEC" stroke-width="2.2" opacity="0.85"/><line x1="2000.8" y1="457" x2="2000.8" y2="565" stroke="#74E640" stroke-width="3.4"/><line x1="2000.8" y1="565" x2="2000.8" y2="628" stroke="#74E640" stroke-width="3.4"/><line x1="2010.9" y1="290" x2="2010.9" y2="457" stroke="#C0D8E6" stroke-width="1.7"/><line x1="2014.4" y1="450" x2="2014.4" y2="628" stroke="#9C9CEC" stroke-width="2.2" opacity="0.85"/><line x1="2010.9" y1="457" x2="2010.9" y2="565" stroke="#74E640" stroke-width="3.4"/><line x1="2010.9" y1="565" x2="2010.9" y2="628" stroke="#74E640" stroke-width="3.4"/><line x1="2021.0" y1="290" x2="2021.0" y2="457" stroke="#C0D8E6" stroke-width="1.7"/><line x1="2024.5" y1="450" x2="2024.5" y2="628" stroke="#9C9CEC" stroke-width="2.2" opacity="0.85"/><line x1="2021.0" y1="457" x2="2021.0" y2="565" stroke="#74E640" stroke-width="3.4"/><line x1="2021.0" y1="565" x2="2021.0" y2="628" stroke="#74E640" stroke-width="3.4"/><line x1="2031.1" y1="290" x2="2031.1" y2="457" stroke="#C0D8E6" stroke-width="1.7"/><line x1="2034.6" y1="450" x2="2034.6" y2="628" stroke="#9C9CEC" stroke-width="2.2" opacity="0.85"/><line x1="2031.1" y1="457" x2="2031.1" y2="565" stroke="#74E640" stroke-width="3.4"/><line x1="2031.1" y1="565" x2="2031.1" y2="628" stroke="#74E640" stroke-width="3.4"/><line x1="2041.2" y1="290" x2="2041.2" y2="457" stroke="#C0D8E6" stroke-width="1.7"/><line x1="2044.7" y1="450" x2="2044.7" y2="628" stroke="#9C9CEC" stroke-width="2.2" opacity="0.85"/><line x1="2041.2" y1="457" x2="2041.2" y2="565" stroke="#74E640" stroke-width="3.4"/><line x1="2041.2" y1="565" x2="2041.2" y2="628" stroke="#74E640" stroke-width="3.4"/><line x1="2051.3" y1="290" x2="2051.3" y2="457" stroke="#C0D8E6" stroke-width="1.7"/><line x1="2054.8" y1="450" x2="2054.8" y2="628" stroke="#9C9CEC" stroke-width="2.2" opacity="0.85"/><line x1="2051.3" y1="457" x2="2051.3" y2="565" stroke="#74E640" stroke-width="3.4"/><line x1="2051.3" y1="565" x2="2051.3" y2="628" stroke="#74E640" stroke-width="3.4"/><line x1="2061.4" y1="290" x2="2061.4" y2="457" stroke="#C0D8E6" stroke-width="1.7"/><line x1="2064.9" y1="450" x2="2064.9" y2="628" stroke="#9C9CEC" stroke-width="2.2" opacity="0.85"/><line x1="2061.4" y1="457" x2="2061.4" y2="565" stroke="#74E640" stroke-width="3.4"/><line x1="2061.4" y1="565" x2="2061.4" y2="628" stroke="#74E640" stroke-width="3.4"/><line x1="2071.5" y1="290" x2="2071.5" y2="457" stroke="#C0D8E6" stroke-width="1.7"/><line x1="2075.0" y1="450" x2="2075.0" y2="628" stroke="#9C9CEC" stroke-width="2.2" opacity="0.85"/><line x1="2071.5" y1="457" x2="2071.5" y2="565" stroke="#74E640" stroke-width="3.4"/><line x1="2071.5" y1="565" x2="2071.5" y2="628" stroke="#74E640" stroke-width="3.4"/><line x1="2081.6" y1="290" x2="2081.6" y2="457" stroke="#C0D8E6" stroke-width="1.7"/><line x1="2085.1" y1="450" x2="2085.1" y2="628" stroke="#9C9CEC" stroke-width="2.2" opacity="0.85"/><line x1="2081.6" y1="457" x2="2081.6" y2="565" stroke="#74E640" stroke-width="3.4"/><line x1="2081.6" y1="565" x2="2081.6" y2="628" stroke="#74E640" stroke-width="3.4"/><line x1="2091.7" y1="290" x2="2091.7" y2="457" stroke="#C0D8E6" stroke-width="1.7"/><line x1="2095.2" y1="450" x2="2095.2" y2="628" stroke="#9C9CEC" stroke-width="2.2" opacity="0.85"/><line x1="2091.7" y1="457" x2="2091.7" y2="565" stroke="#74E640" stroke-width="3.4"/><line x1="2091.7" y1="565" x2="2091.7" y2="628" stroke="#74E640" stroke-width="3.4"/><line x1="2101.8" y1="290" x2="2101.8" y2="457" stroke="#C0D8E6" stroke-width="1.7"/><line x1="2105.3" y1="450" x2="2105.3" y2="628" stroke="#9C9CEC" stroke-width="2.2" opacity="0.85"/><line x1="2101.8" y1="457" x2="2101.8" y2="565" stroke="#74E640" stroke-width="3.4"/><line x1="2101.8" y1="565" x2="2101.8" y2="628" stroke="#94DC8C" stroke-width="5" opacity="0.75"/><line x1="2111.9" y1="290" x2="2111.9" y2="457" stroke="#C0D8E6" stroke-width="1.7"/><line x1="2115.4" y1="450" x2="2115.4" y2="628" stroke="#9C9CEC" stroke-width="2.2" opacity="0.85"/><line x1="2111.9" y1="457" x2="2111.9" y2="565" stroke="#74E640" stroke-width="3.4"/><line x1="2111.9" y1="565" x2="2111.9" y2="628" stroke="#74E640" stroke-width="3.4"/><line x1="2122.0" y1="290" x2="2122.0" y2="457" stroke="#C0D8E6" stroke-width="1.7"/><line x1="2125.5" y1="450" x2="2125.5" y2="628" stroke="#9C9CEC" stroke-width="2.2" opacity="0.85"/><line x1="2122.0" y1="457" x2="2122.0" y2="565" stroke="#74E640" stroke-width="3.4"/><line x1="2122.0" y1="565" x2="2122.0" y2="628" stroke="#74E640" stroke-width="3.4"/><line x1="2132.1" y1="290" x2="2132.1" y2="457" stroke="#C0D8E6" stroke-width="1.7"/><line x1="2135.6" y1="450" x2="2135.6" y2="628" stroke="#9C9CEC" stroke-width="2.2" opacity="0.85"/><line x1="2132.1" y1="457" x2="2132.1" y2="565" stroke="#74E640" stroke-width="3.4"/><line x1="2132.1" y1="565" x2="2132.1" y2="628" stroke="#94DC8C" stroke-width="5" opacity="0.75"/><line x1="2142.2" y1="290" x2="2142.2" y2="457" stroke="#C0D8E6" stroke-width="1.7"/><line x1="2145.7" y1="450" x2="2145.7" y2="628" stroke="#9C9CEC" stroke-width="2.2" opacity="0.85"/><line x1="2142.2" y1="457" x2="2142.2" y2="565" stroke="#74E640" stroke-width="3.4"/><line x1="2142.2" y1="565" x2="2142.2" y2="628" stroke="#74E640" stroke-width="3.4"/><line x1="2152.3" y1="290" x2="2152.3" y2="457" stroke="#C0D8E6" stroke-width="1.7"/><line x1="2155.8" y1="450" x2="2155.8" y2="628" stroke="#9C9CEC" stroke-width="2.2" opacity="0.85"/><line x1="2152.3" y1="457" x2="2152.3" y2="565" stroke="#74E640" stroke-width="3.4"/><line x1="2152.3" y1="565" x2="2152.3" y2="628" stroke="#74E640" stroke-width="3.4"/><line x1="2162.4" y1="290" x2="2162.4" y2="457" stroke="#C0D8E6" stroke-width="1.7"/><line x1="2165.9" y1="450" x2="2165.9" y2="628" stroke="#9C9CEC" stroke-width="2.2" opacity="0.85"/><line x1="2162.4" y1="457" x2="2162.4" y2="565" stroke="#74E640" stroke-width="3.4"/><line x1="2162.4" y1="565" x2="2162.4" y2="628" stroke="#94DC8C" stroke-width="5" opacity="0.75"/><line x1="2172.5" y1="290" x2="2172.5" y2="457" stroke="#C0D8E6" stroke-width="1.7"/><line x1="2176.0" y1="450" x2="2176.0" y2="628" stroke="#9C9CEC" stroke-width="2.2" opacity="0.85"/><line x1="2172.5" y1="457" x2="2172.5" y2="565" stroke="#74E640" stroke-width="3.4"/><line x1="2172.5" y1="565" x2="2172.5" y2="628" stroke="#74E640" stroke-width="3.4"/><line x1="2182.6" y1="290" x2="2182.6" y2="457" stroke="#C0D8E6" stroke-width="1.7"/><line x1="2186.1" y1="450" x2="2186.1" y2="628" stroke="#9C9CEC" stroke-width="2.2" opacity="0.85"/><line x1="2182.6" y1="457" x2="2182.6" y2="565" stroke="#74E640" stroke-width="3.4"/><line x1="2182.6" y1="565" x2="2182.6" y2="628" stroke="#74E640" stroke-width="3.4"/><line x1="2192.7" y1="290" x2="2192.7" y2="457" stroke="#C0D8E6" stroke-width="1.7"/><line x1="2196.2" y1="450" x2="2196.2" y2="628" stroke="#9C9CEC" stroke-width="2.2" opacity="0.85"/><line x1="2192.7" y1="457" x2="2192.7" y2="565" stroke="#74E640" stroke-width="3.4"/><line x1="2192.7" y1="565" x2="2192.7" y2="628" stroke="#94DC8C" stroke-width="5" opacity="0.75"/><line x1="2202.8" y1="290" x2="2202.8" y2="457" stroke="#C0D8E6" stroke-width="1.7"/><line x1="2206.3" y1="450" x2="2206.3" y2="628" stroke="#9C9CEC" stroke-width="2.2" opacity="0.85"/><line x1="2202.8" y1="457" x2="2202.8" y2="565" stroke="#74E640" stroke-width="3.4"/><line x1="2202.8" y1="565" x2="2202.8" y2="628" stroke="#74E640" stroke-width="3.4"/><line x1="2212.9" y1="290" x2="2212.9" y2="457" stroke="#C0D8E6" stroke-width="1.7"/><line x1="2216.4" y1="450" x2="2216.4" y2="628" stroke="#9C9CEC" stroke-width="2.2" opacity="0.85"/><line x1="2212.9" y1="457" x2="2212.9" y2="565" stroke="#74E640" stroke-width="3.4"/><line x1="2212.9" y1="565" x2="2212.9" y2="628" stroke="#74E640" stroke-width="3.4"/><line x1="2223.0" y1="290" x2="2223.0" y2="457" stroke="#C0D8E6" stroke-width="1.7"/><line x1="2226.5" y1="450" x2="2226.5" y2="628" stroke="#9C9CEC" stroke-width="2.2" opacity="0.85"/><line x1="2223.0" y1="457" x2="2223.0" y2="565" stroke="#74E640" stroke-width="3.4"/><line x1="2223.0" y1="565" x2="2223.0" y2="628" stroke="#94DC8C" stroke-width="5" opacity="0.75"/><line x1="2233.1" y1="290" x2="2233.1" y2="457" stroke="#C0D8E6" stroke-width="1.7"/><line x1="2236.6" y1="450" x2="2236.6" y2="628" stroke="#9C9CEC" stroke-width="2.2" opacity="0.85"/><line x1="2233.1" y1="457" x2="2233.1" y2="565" stroke="#74E640" stroke-width="3.4"/><line x1="2233.1" y1="565" x2="2233.1" y2="628" stroke="#74E640" stroke-width="3.4"/><line x1="2243.2" y1="290" x2="2243.2" y2="457" stroke="#C0D8E6" stroke-width="1.7"/><line x1="2246.7" y1="450" x2="2246.7" y2="628" stroke="#9C9CEC" stroke-width="2.2" opacity="0.85"/><line x1="2243.2" y1="457" x2="2243.2" y2="565" stroke="#74E640" stroke-width="3.4"/><line x1="2243.2" y1="565" x2="2243.2" y2="628" stroke="#74E640" stroke-width="3.4"/><line x1="2253.3" y1="290" x2="2253.3" y2="457" stroke="#C0D8E6" stroke-width="1.7"/><line x1="2256.8" y1="450" x2="2256.8" y2="628" stroke="#9C9CEC" stroke-width="2.2" opacity="0.85"/><line x1="2253.3" y1="457" x2="2253.3" y2="565" stroke="#74E640" stroke-width="3.4"/><line x1="2253.3" y1="565" x2="2253.3" y2="628" stroke="#94DC8C" stroke-width="5" opacity="0.75"/><line x1="2263.4" y1="290" x2="2263.4" y2="457" stroke="#C0D8E6" stroke-width="1.7"/><line x1="2266.9" y1="450" x2="2266.9" y2="628" stroke="#9C9CEC" stroke-width="2.2" opacity="0.85"/><line x1="2263.4" y1="457" x2="2263.4" y2="565" stroke="#74E640" stroke-width="3.4"/><line x1="2263.4" y1="565" x2="2263.4" y2="628" stroke="#74E640" stroke-width="3.4"/><line x1="2273.5" y1="290" x2="2273.5" y2="457" stroke="#C0D8E6" stroke-width="1.7"/><line x1="2277.0" y1="450" x2="2277.0" y2="628" stroke="#9C9CEC" stroke-width="2.2" opacity="0.85"/><line x1="2273.5" y1="457" x2="2273.5" y2="565" stroke="#74E640" stroke-width="3.4"/><line x1="2273.5" y1="565" x2="2273.5" y2="628" stroke="#74E640" stroke-width="3.4"/><line x1="2283.6" y1="290" x2="2283.6" y2="457" stroke="#C0D8E6" stroke-width="1.7"/><line x1="2287.1" y1="450" x2="2287.1" y2="628" stroke="#9C9CEC" stroke-width="2.2" opacity="0.85"/><line x1="2283.6" y1="457" x2="2283.6" y2="565" stroke="#74E640" stroke-width="3.4"/><line x1="2283.6" y1="565" x2="2283.6" y2="628" stroke="#74E640" stroke-width="3.4"/><line x1="2293.7" y1="290" x2="2293.7" y2="457" stroke="#C0D8E6" stroke-width="1.7"/><line x1="2297.2" y1="450" x2="2297.2" y2="628" stroke="#9C9CEC" stroke-width="2.2" opacity="0.85"/><line x1="2293.7" y1="457" x2="2293.7" y2="565" stroke="#94DC8C" stroke-width="5" opacity="0.75"/><line x1="2293.7" y1="565" x2="2293.7" y2="628" stroke="#94DC8C" stroke-width="5" opacity="0.75"/><line x1="2303.8" y1="290" x2="2303.8" y2="457" stroke="#C0D8E6" stroke-width="1.7"/><line x1="2307.3" y1="450" x2="2307.3" y2="628" stroke="#9C9CEC" stroke-width="2.2" opacity="0.85"/><line x1="2303.8" y1="457" x2="2303.8" y2="565" stroke="#74E640" stroke-width="3.4"/><line x1="2303.8" y1="565" x2="2303.8" y2="628" stroke="#74E640" stroke-width="3.4"/><line x1="2313.9" y1="290" x2="2313.9" y2="457" stroke="#C0D8E6" stroke-width="1.7"/><line x1="2317.4" y1="450" x2="2317.4" y2="628" stroke="#9C9CEC" stroke-width="2.2" opacity="0.85"/><line x1="2313.9" y1="457" x2="2313.9" y2="565" stroke="#74E640" stroke-width="3.4"/><line x1="2313.9" y1="565" x2="2313.9" y2="628" stroke="#74E640" stroke-width="3.4"/><line x1="2324.0" y1="290" x2="2324.0" y2="457" stroke="#C0D8E6" stroke-width="1.7"/><line x1="2327.5" y1="450" x2="2327.5" y2="628" stroke="#9C9CEC" stroke-width="2.2" opacity="0.85"/><line x1="2324.0" y1="457" x2="2324.0" y2="565" stroke="#94DC8C" stroke-width="5" opacity="0.75"/><line x1="2324.0" y1="565" x2="2324.0" y2="628" stroke="#94DC8C" stroke-width="5" opacity="0.75"/><line x1="2334.1" y1="290" x2="2334.1" y2="457" stroke="#C0D8E6" stroke-width="1.7"/><line x1="2337.6" y1="450" x2="2337.6" y2="628" stroke="#9C9CEC" stroke-width="2.2" opacity="0.85"/><line x1="2334.1" y1="457" x2="2334.1" y2="565" stroke="#74E640" stroke-width="3.4"/><line x1="2334.1" y1="565" x2="2334.1" y2="628" stroke="#74E640" stroke-width="3.4"/><line x1="2344.2" y1="290" x2="2344.2" y2="457" stroke="#C0D8E6" stroke-width="1.7"/><line x1="2347.7" y1="450" x2="2347.7" y2="628" stroke="#9C9CEC" stroke-width="2.2" opacity="0.85"/><line x1="2344.2" y1="457" x2="2344.2" y2="565" stroke="#74E640" stroke-width="3.4"/><line x1="2344.2" y1="565" x2="2344.2" y2="628" stroke="#74E640" stroke-width="3.4"/><line x1="2354.3" y1="290" x2="2354.3" y2="457" stroke="#C0D8E6" stroke-width="1.7"/><line x1="2357.8" y1="450" x2="2357.8" y2="628" stroke="#9C9CEC" stroke-width="2.2" opacity="0.85"/><line x1="2354.3" y1="457" x2="2354.3" y2="565" stroke="#94DC8C" stroke-width="5" opacity="0.75"/><line x1="2354.3" y1="565" x2="2354.3" y2="628" stroke="#94DC8C" stroke-width="5" opacity="0.75"/><line x1="2364.4" y1="290" x2="2364.4" y2="457" stroke="#C0D8E6" stroke-width="1.7"/><line x1="2367.9" y1="450" x2="2367.9" y2="628" stroke="#9C9CEC" stroke-width="2.2" opacity="0.85"/><line x1="2364.4" y1="457" x2="2364.4" y2="565" stroke="#74E640" stroke-width="3.4"/><line x1="2364.4" y1="565" x2="2364.4" y2="628" stroke="#74E640" stroke-width="3.4"/><line x1="2374.5" y1="290" x2="2374.5" y2="457" stroke="#C0D8E6" stroke-width="1.7"/><line x1="2378.0" y1="450" x2="2378.0" y2="628" stroke="#9C9CEC" stroke-width="2.2" opacity="0.85"/><line x1="2374.5" y1="457" x2="2374.5" y2="565" stroke="#74E640" stroke-width="3.4"/><line x1="2374.5" y1="565" x2="2374.5" y2="628" stroke="#74E640" stroke-width="3.4"/><line x1="2384.6" y1="290" x2="2384.6" y2="457" stroke="#C0D8E6" stroke-width="1.7"/><line x1="2388.1" y1="450" x2="2388.1" y2="628" stroke="#9C9CEC" stroke-width="2.2" opacity="0.85"/><line x1="2384.6" y1="457" x2="2384.6" y2="565" stroke="#94DC8C" stroke-width="5" opacity="0.75"/><line x1="2384.6" y1="565" x2="2384.6" y2="628" stroke="#94DC8C" stroke-width="5" opacity="0.75"/><line x1="2394.7" y1="290" x2="2394.7" y2="457" stroke="#C0D8E6" stroke-width="1.7"/><line x1="2398.2" y1="450" x2="2398.2" y2="628" stroke="#9C9CEC" stroke-width="2.2" opacity="0.85"/><line x1="2394.7" y1="457" x2="2394.7" y2="565" stroke="#74E640" stroke-width="3.4"/><line x1="2394.7" y1="565" x2="2394.7" y2="628" stroke="#74E640" stroke-width="3.4"/><line x1="2404.8" y1="290" x2="2404.8" y2="457" stroke="#C0D8E6" stroke-width="1.7"/><line x1="2408.3" y1="450" x2="2408.3" y2="628" stroke="#9C9CEC" stroke-width="2.2" opacity="0.85"/><line x1="2404.8" y1="457" x2="2404.8" y2="565" stroke="#74E640" stroke-width="3.4"/><line x1="2404.8" y1="565" x2="2404.8" y2="628" stroke="#74E640" stroke-width="3.4"/><line x1="2414.9" y1="290" x2="2414.9" y2="457" stroke="#C0D8E6" stroke-width="1.7"/><line x1="2418.4" y1="450" x2="2418.4" y2="628" stroke="#9C9CEC" stroke-width="2.2" opacity="0.85"/><line x1="2414.9" y1="457" x2="2414.9" y2="565" stroke="#94DC8C" stroke-width="5" opacity="0.75"/><line x1="2414.9" y1="565" x2="2414.9" y2="628" stroke="#94DC8C" stroke-width="5" opacity="0.75"/><line x1="2425.0" y1="290" x2="2425.0" y2="457" stroke="#C0D8E6" stroke-width="1.7"/><line x1="2428.5" y1="450" x2="2428.5" y2="628" stroke="#9C9CEC" stroke-width="2.2" opacity="0.85"/><line x1="2425.0" y1="457" x2="2425.0" y2="565" stroke="#74E640" stroke-width="3.4"/><line x1="2425.0" y1="565" x2="2425.0" y2="628" stroke="#74E640" stroke-width="3.4"/><line x1="1626" y1="290" x2="1626" y2="628" stroke="#B0CCE4" stroke-width="2"/><line x1="2434" y1="290" x2="2434" y2="628" stroke="#B0CCE4" stroke-width="2"/><line x1="1626" y1="457" x2="2434" y2="457" stroke="#A4BCDC" stroke-width="1.6" opacity="0.7"/></g>
<path d="M1537,352 L1551,332 L1568,317.7 L1591.5,303.4 L1625,296 Q2030,284 2435.8,297.4 L2471.5,305.8 L2495.4,320 L2521.6,353.5" fill="none" stroke="#98B6D0" stroke-width="2"/>
<polygon points="1650,171.5 1558.6,346 1560,390 1563,390 1578,346 1593,294.4" fill="#52D41C"/>
<polygon points="1650,172 1790,338 1788,377 1752,338" fill="#52D41C"/>
<polygon points="1650,174 1788,377 1770,345" fill="#3DA818" opacity="0.45"/>
<polygon points="2405,185 2273,335 2273,377 2333,300 2412,188" fill="#52D41C"/>
<polygon points="2406,188 2273,377 2300,335" fill="#3DA818" opacity="0.45"/>
<polygon points="2414,190 2502,360 2498,393 2460,320 2408,190" fill="#52D41C"/>
<polygon points="2412,190 2498,393 2470,330" fill="#3DA818" opacity="0.45"/>
<circle cx="2410.7" cy="176.6" r="14.7" fill="#52D41C"/>
<line x1="1676.5" y1="175.4" x2="1771.6" y2="159.8" stroke="#0b0b0b" stroke-width="5"/>
<line x1="2304" y1="159" x2="2385" y2="174.5" stroke="#0b0b0b" stroke-width="5"/>
<text x="1776" y="137" textLength="517" lengthAdjust="spacing">Engine and vertical</text>
<text x="1794" y="201">stabilizer centroid</text>
<text x="1661" y="779" textLength="721" lengthAdjust="spacing">(b) Vertical tail and engine</text>
<line x1="2477.5" y1="244.7" x2="2475" y2="146" stroke="#A0E070" stroke-width="2.5"/>
<line x1="2477.5" y1="244.7" x2="2585" y2="243" stroke="#3050D8" stroke-width="2.5"/>
<polygon points="2474.7,87.2 2465,146.7 2485,146.7" fill="#E0F8C8" stroke="#88DC48" stroke-width="3.5" stroke-linejoin="round"/>
<line x1="2474.7" y1="100" x2="2474.7" y2="146" stroke="#88DC48" stroke-width="2"/>
<polygon points="2643.8,242 2584,232 2584,254" fill="#D0DCF8" stroke="#3860E0" stroke-width="3.5" stroke-linejoin="round"/>
<line x1="2590" y1="243" x2="2640" y2="242" stroke="#3860E0" stroke-width="2"/>
<ellipse cx="2475.8" cy="211" rx="8.5" ry="10.5" fill="#FBD8E0" stroke="#E83860" stroke-width="2.6"/>
<line x1="2475.8" y1="199" x2="2475.8" y2="223" stroke="#E83860" stroke-width="2"/>
<line x1="2468" y1="206" x2="2483" y2="206" stroke="#E83860" stroke-width="1.5"/>
<text class="it" x="2461" y="58">y</text>
<text class="it" x="2499" y="218">x</text>
<text class="it" x="2656" y="246">z</text>
<text class="it" x="2473" y="304">O</text>
</g>
<g id="pc">
<rect x="2754" y="80" width="873" height="516" fill="#06003A"/>
<g clip-path="url(#cpC)"><polygon points="2820.0,70.0 2836.5,70.0 2853.0,70.0 2869.5,70.0 2886.0,70.0 2902.6,70.0 2919.1,70.0 2935.6,70.0 2952.1,70.0 2968.6,70.0 2985.1,70.0 3001.6,70.0 3018.1,70.0 3034.6,70.0 3051.1,70.0 3067.7,70.0 3084.2,70.0 3100.7,70.0 3117.2,70.0 3133.7,70.0 3150.2,70.0 3166.7,70.0 3183.2,70.0 3199.7,70.0 3216.2,70.0 3232.8,70.0 3249.3,70.0 3265.8,70.0 3282.3,70.0 3298.8,70.0 3315.3,70.0 3331.8,70.0 3348.3,70.0 3364.8,70.0 3381.3,70.0 3397.9,70.0 3414.4,70.0 3430.9,70.0 3447.4,70.0 3463.9,70.0 3480.4,70.0 3496.9,70.0 3513.4,70.0 3529.9,70.0 3546.4,70.0 3563.0,70.0 3579.5,70.0 3596.0,70.0 3612.5,70.0 3629.0,70.0 3629.0,101.7 3612.5,99.6 3596.0,97.5 3579.5,95.5 3563.0,93.6 3546.4,91.7 3529.9,89.9 3513.4,88.2 3496.9,86.6 3480.4,85.0 3463.9,83.6 3447.4,82.2 3430.9,80.8 3414.4,79.6 3397.9,78.4 3381.3,77.3 3364.8,76.3 3348.3,75.3 3331.8,74.5 3315.3,73.7 3298.8,73.0 3282.3,72.3 3265.8,71.7 3249.3,71.2 3232.8,70.8 3216.2,70.5 3199.7,70.2 3183.2,70.0 3166.7,69.9 3150.2,69.9 3133.7,69.9 3117.2,70.0 3100.7,70.2 3084.2,70.5 3067.7,70.8 3051.1,71.2 3034.6,71.7 3018.1,72.3 3001.6,72.9 2985.1,73.7 2968.6,74.4 2952.1,75.3 2935.6,76.3 2919.1,77.3 2902.6,78.4 2886.0,79.6 2869.5,80.8 2853.0,82.1 2836.5,83.5 2820.0,85.0" fill="#5B8DD4"/><polyline points="2820.0,85.0 2836.5,83.5 2853.0,82.1 2869.5,80.8 2886.0,79.6 2902.6,78.4 2919.1,77.3 2935.6,76.3 2952.1,75.3 2968.6,74.4 2985.1,73.7 3001.6,72.9 3018.1,72.3 3034.6,71.7 3051.1,71.2 3067.7,70.8 3084.2,70.5 3100.7,70.2 3117.2,70.0 3133.7,69.9 3150.2,69.9 3166.7,69.9 3183.2,70.0 3199.7,70.2 3216.2,70.5 3232.8,70.8 3249.3,71.2 3265.8,71.7 3282.3,72.3 3298.8,73.0 3315.3,73.7 3331.8,74.5 3348.3,75.3 3364.8,76.3 3381.3,77.3 3397.9,78.4 3414.4,79.6 3430.9,80.8 3447.4,82.2 3463.9,83.6 3480.4,85.0 3496.9,86.6 3513.4,88.2 3529.9,89.9 3546.4,91.7 3563.0,93.6 3579.5,95.5 3596.0,97.5 3612.5,99.6 3629.0,101.7" fill="none" stroke="#1A2A70" stroke-width="1.5"/><polygon points="2879.5,79.5 2894.8,78.4 2910.1,77.4 2925.4,76.4 2940.7,75.5 2956.0,74.6 2971.3,73.8 2986.6,73.1 3001.9,72.4 3017.2,71.8 3032.5,71.3 3047.8,70.8 3063.1,70.4 3078.3,70.1 3093.6,69.8 3108.9,69.6 3124.2,69.5 3139.5,69.4 3154.8,69.4 3170.1,69.4 3185.4,69.5 3200.7,69.7 3216.0,70.0 3231.3,70.3 3246.6,70.7 3261.9,71.1 3277.2,71.6 3292.5,72.2 3307.8,72.8 3323.1,73.5 3338.4,74.3 3353.7,75.1 3369.0,76.0 3384.3,77.0 3399.6,78.0 3414.9,79.1 3430.2,80.3 3445.4,81.5 3460.7,82.8 3476.0,84.1 3491.3,85.6 3506.6,87.0 3521.9,88.6 3537.2,90.2 3552.5,91.9 3567.8,93.6 3583.1,95.4 3598.4,97.3 3613.7,99.2 3629.0,101.2 3629.0,104.2 3613.7,102.2 3598.4,100.3 3583.1,98.4 3567.8,96.6 3552.5,94.9 3537.2,93.2 3521.9,91.6 3506.6,90.0 3491.3,88.6 3476.0,87.1 3460.7,85.8 3445.4,84.5 3430.2,83.3 3414.9,82.1 3399.6,81.0 3384.3,80.0 3369.0,79.0 3353.7,78.1 3338.4,77.3 3323.1,76.5 3307.8,75.8 3292.5,75.2 3277.2,74.6 3261.9,74.1 3246.6,73.7 3231.3,73.3 3216.0,73.0 3200.7,72.7 3185.4,72.5 3170.1,72.4 3154.8,72.4 3139.5,72.4 3124.2,72.5 3108.9,72.6 3093.6,72.8 3078.3,73.1 3063.1,73.4 3047.8,73.8 3032.5,74.3 3017.2,74.8 3001.9,75.4 2986.6,76.1 2971.3,76.8 2956.0,77.6 2940.7,78.5 2925.4,79.4 2910.1,80.4 2894.8,81.4 2879.5,82.5" fill="#141C5A"/><polygon points="2839.5,83.3 2879.5,80.0 2879.5,82.0" fill="#0C1060"/><polygon points="2879.5,82.0 2894.8,80.9 2910.1,79.9 2925.4,78.9 2940.7,78.0 2956.0,77.1 2971.3,76.3 2986.6,75.6 3001.9,74.9 3017.2,74.3 3032.5,73.8 3047.8,73.3 3063.1,72.9 3078.3,72.6 3093.6,72.3 3108.9,72.1 3124.2,72.0 3139.5,71.9 3154.8,71.9 3170.1,71.9 3185.4,72.0 3200.7,72.2 3216.0,72.5 3231.3,72.8 3246.6,73.2 3261.9,73.6 3277.2,74.1 3292.5,74.7 3307.8,75.3 3323.1,76.0 3338.4,76.8 3353.7,77.6 3369.0,78.5 3384.3,79.5 3399.6,80.5 3414.9,81.6 3430.2,82.8 3445.4,84.0 3460.7,85.3 3476.0,86.6 3491.3,88.1 3506.6,89.5 3521.9,91.1 3537.2,92.7 3552.5,94.4 3567.8,96.1 3583.1,97.9 3598.4,99.8 3613.7,101.7 3629.0,103.7 3629.0,80.6 3613.7,80.6 3598.4,80.5 3583.1,80.5 3567.8,80.5 3552.5,80.6 3537.2,80.7 3521.9,80.8 3506.6,81.0 3491.3,81.2 3476.0,81.4 3460.7,81.7 3445.4,82.0 3430.2,82.4 3414.9,82.7 3399.6,83.2 3384.3,83.6 3369.0,84.1 3353.7,84.6 3338.4,85.2 3323.1,85.8 3307.8,86.4 3292.5,87.1 3277.2,87.8 3261.9,88.5 3246.6,89.3 3231.3,90.1 3216.0,90.9 3200.7,91.8 3185.4,92.7 3170.1,93.7 3154.8,94.7 3139.5,95.7 3124.2,96.8 3108.9,97.9 3093.6,99.0 3078.3,100.1 3063.1,101.3 3047.8,102.6 3032.5,103.9 3017.2,105.2 3001.9,106.5 2986.6,107.9 2971.3,109.3 2956.0,110.7 2940.7,112.2 2925.4,113.8 2910.1,115.3 2894.8,116.9 2879.5,118.5" fill="#5B8DD4"/><polyline points="2879.5,118.5 2894.8,116.9 2910.1,115.3 2925.4,113.8 2940.7,112.2 2956.0,110.7 2971.3,109.3 2986.6,107.9 3001.9,106.5 3017.2,105.2 3032.5,103.9 3047.8,102.6 3063.1,101.3 3078.3,100.1 3093.6,99.0 3108.9,97.9 3124.2,96.8 3139.5,95.7 3154.8,94.7 3170.1,93.7 3185.4,92.7 3200.7,91.8 3216.0,90.9 3231.3,90.1 3246.6,89.3 3261.9,88.5 3277.2,87.8 3292.5,87.1 3307.8,86.4 3323.1,85.8 3338.4,85.2 3353.7,84.6 3369.0,84.1 3384.3,83.6 3399.6,83.2 3414.9,82.7 3430.2,82.4 3445.4,82.0 3460.7,81.7 3476.0,81.4 3491.3,81.2 3506.6,81.0 3521.9,80.8 3537.2,80.7 3552.5,80.6 3567.8,80.5 3583.1,80.5 3598.4,80.5 3613.7,80.6 3629.0,80.6" fill="none" stroke="#1A2A70" stroke-width="1.5"/><polygon points="2939.0,111.9 2953.1,110.5 2967.2,109.2 2981.2,107.9 2995.3,106.6 3009.4,105.3 3023.5,104.1 3037.6,102.9 3051.7,101.8 3065.7,100.6 3079.8,99.5 3093.9,98.5 3108.0,97.4 3122.1,96.4 3136.1,95.4 3150.2,94.5 3164.3,93.6 3178.4,92.7 3192.5,91.8 3206.6,91.0 3220.6,90.2 3234.7,89.4 3248.8,88.7 3262.9,88.0 3277.0,87.3 3291.0,86.6 3305.1,86.0 3319.2,85.4 3333.3,84.9 3347.4,84.4 3361.4,83.9 3375.5,83.4 3389.6,83.0 3403.7,82.5 3417.8,82.2 3431.9,81.8 3445.9,81.5 3460.0,81.2 3474.1,81.0 3488.2,80.7 3502.3,80.5 3516.3,80.4 3530.4,80.2 3544.5,80.1 3558.6,80.1 3572.7,80.0 3586.8,80.0 3600.8,80.0 3614.9,80.1 3629.0,80.1 3629.0,83.1 3614.9,83.1 3600.8,83.0 3586.8,83.0 3572.7,83.0 3558.6,83.1 3544.5,83.1 3530.4,83.2 3516.3,83.4 3502.3,83.5 3488.2,83.7 3474.1,84.0 3460.0,84.2 3445.9,84.5 3431.9,84.8 3417.8,85.2 3403.7,85.5 3389.6,86.0 3375.5,86.4 3361.4,86.9 3347.4,87.4 3333.3,87.9 3319.2,88.4 3305.1,89.0 3291.0,89.6 3277.0,90.3 3262.9,91.0 3248.8,91.7 3234.7,92.4 3220.6,93.2 3206.6,94.0 3192.5,94.8 3178.4,95.7 3164.3,96.6 3150.2,97.5 3136.1,98.4 3122.1,99.4 3108.0,100.4 3093.9,101.5 3079.8,102.5 3065.7,103.6 3051.7,104.8 3037.6,105.9 3023.5,107.1 3009.4,108.3 2995.3,109.6 2981.2,110.9 2967.2,112.2 2953.1,113.5 2939.0,114.9" fill="#141C5A"/><polygon points="2899.0,116.5 2939.0,112.4 2939.0,114.4" fill="#0C1060"/><polygon points="2939.0,114.4 2953.1,113.0 2967.2,111.7 2981.2,110.4 2995.3,109.1 3009.4,107.8 3023.5,106.6 3037.6,105.4 3051.7,104.3 3065.7,103.1 3079.8,102.0 3093.9,101.0 3108.0,99.9 3122.1,98.9 3136.1,97.9 3150.2,97.0 3164.3,96.1 3178.4,95.2 3192.5,94.3 3206.6,93.5 3220.6,92.7 3234.7,91.9 3248.8,91.2 3262.9,90.5 3277.0,89.8 3291.0,89.1 3305.1,88.5 3319.2,87.9 3333.3,87.4 3347.4,86.9 3361.4,86.4 3375.5,85.9 3389.6,85.5 3403.7,85.0 3417.8,84.7 3431.9,84.3 3445.9,84.0 3460.0,83.7 3474.1,83.5 3488.2,83.2 3502.3,83.0 3516.3,82.9 3530.4,82.7 3544.5,82.6 3558.6,82.6 3572.7,82.5 3586.8,82.5 3600.8,82.5 3614.9,82.6 3629.0,82.6 3629.0,117.0 3614.9,117.0 3600.8,117.1 3586.8,117.2 3572.7,117.3 3558.6,117.4 3544.5,117.6 3530.4,117.9 3516.3,118.1 3502.3,118.4 3488.2,118.7 3474.1,119.1 3460.0,119.4 3445.9,119.9 3431.9,120.3 3417.8,120.8 3403.7,121.3 3389.6,121.8 3375.5,122.4 3361.4,123.0 3347.4,123.7 3333.3,124.3 3319.2,125.0 3305.1,125.8 3291.0,126.5 3277.0,127.3 3262.9,128.1 3248.8,129.0 3234.7,129.9 3220.6,130.8 3206.6,131.8 3192.5,132.8 3178.4,133.8 3164.3,134.8 3150.2,135.9 3136.1,137.0 3122.1,138.2 3108.0,139.4 3093.9,140.6 3079.8,141.8 3065.7,143.1 3051.7,144.4 3037.6,145.7 3023.5,147.1 3009.4,148.5 2995.3,150.0 2981.2,151.4 2967.2,152.9 2953.1,154.5 2939.0,156.0" fill="#5B8DD4"/><polyline points="2939.0,156.0 2953.1,154.5 2967.2,152.9 2981.2,151.4 2995.3,150.0 3009.4,148.5 3023.5,147.1 3037.6,145.7 3051.7,144.4 3065.7,143.1 3079.8,141.8 3093.9,140.6 3108.0,139.4 3122.1,138.2 3136.1,137.0 3150.2,135.9 3164.3,134.8 3178.4,133.8 3192.5,132.8 3206.6,131.8 3220.6,130.8 3234.7,129.9 3248.8,129.0 3262.9,128.1 3277.0,127.3 3291.0,126.5 3305.1,125.8 3319.2,125.0 3333.3,124.3 3347.4,123.7 3361.4,123.0 3375.5,122.4 3389.6,121.8 3403.7,121.3 3417.8,120.8 3431.9,120.3 3445.9,119.9 3460.0,119.4 3474.1,119.1 3488.2,118.7 3502.3,118.4 3516.3,118.1 3530.4,117.9 3544.5,117.6 3558.6,117.4 3572.7,117.3 3586.8,117.2 3600.8,117.1 3614.9,117.0 3629.0,117.0" fill="none" stroke="#1A2A70" stroke-width="1.5"/><polygon points="2998.0,149.2 3010.9,147.9 3023.8,146.6 3036.6,145.3 3049.5,144.1 3062.4,142.9 3075.3,141.7 3088.1,140.6 3101.0,139.5 3113.9,138.4 3126.8,137.3 3139.7,136.3 3152.5,135.2 3165.4,134.3 3178.3,133.3 3191.2,132.4 3204.0,131.5 3216.9,130.6 3229.8,129.7 3242.7,128.9 3255.6,128.1 3268.4,127.3 3281.3,126.6 3294.2,125.8 3307.1,125.2 3319.9,124.5 3332.8,123.8 3345.7,123.2 3358.6,122.6 3371.4,122.1 3384.3,121.5 3397.2,121.0 3410.1,120.6 3423.0,120.1 3435.8,119.7 3448.7,119.3 3461.6,118.9 3474.5,118.6 3487.3,118.2 3500.2,117.9 3513.1,117.7 3526.0,117.4 3538.9,117.2 3551.7,117.0 3564.6,116.9 3577.5,116.7 3590.4,116.6 3603.2,116.6 3616.1,116.5 3629.0,116.5 3629.0,119.5 3616.1,119.5 3603.2,119.6 3590.4,119.6 3577.5,119.7 3564.6,119.9 3551.7,120.0 3538.9,120.2 3526.0,120.4 3513.1,120.7 3500.2,120.9 3487.3,121.2 3474.5,121.6 3461.6,121.9 3448.7,122.3 3435.8,122.7 3423.0,123.1 3410.1,123.6 3397.2,124.0 3384.3,124.5 3371.4,125.1 3358.6,125.6 3345.7,126.2 3332.8,126.8 3319.9,127.5 3307.1,128.2 3294.2,128.8 3281.3,129.6 3268.4,130.3 3255.6,131.1 3242.7,131.9 3229.8,132.7 3216.9,133.6 3204.0,134.5 3191.2,135.4 3178.3,136.3 3165.4,137.3 3152.5,138.2 3139.7,139.3 3126.8,140.3 3113.9,141.4 3101.0,142.5 3088.1,143.6 3075.3,144.7 3062.4,145.9 3049.5,147.1 3036.6,148.3 3023.8,149.6 3010.9,150.9 2998.0,152.2" fill="#141C5A"/><polygon points="2958.0,153.9 2998.0,149.7 2998.0,151.7" fill="#0C1060"/><polygon points="2998.0,151.7 3010.9,150.4 3023.8,149.1 3036.6,147.8 3049.5,146.6 3062.4,145.4 3075.3,144.2 3088.1,143.1 3101.0,142.0 3113.9,140.9 3126.8,139.8 3139.7,138.8 3152.5,137.7 3165.4,136.8 3178.3,135.8 3191.2,134.9 3204.0,134.0 3216.9,133.1 3229.8,132.2 3242.7,131.4 3255.6,130.6 3268.4,129.8 3281.3,129.1 3294.2,128.3 3307.1,127.7 3319.9,127.0 3332.8,126.3 3345.7,125.7 3358.6,125.1 3371.4,124.6 3384.3,124.0 3397.2,123.5 3410.1,123.1 3423.0,122.6 3435.8,122.2 3448.7,121.8 3461.6,121.4 3474.5,121.1 3487.3,120.7 3500.2,120.4 3513.1,120.2 3526.0,119.9 3538.9,119.7 3551.7,119.5 3564.6,119.4 3577.5,119.2 3590.4,119.1 3603.2,119.1 3616.1,119.0 3629.0,119.0 3629.0,151.2 3616.1,151.6 3603.2,152.0 3590.4,152.4 3577.5,152.8 3564.6,153.2 3551.7,153.6 3538.9,154.1 3526.0,154.6 3513.1,155.1 3500.2,155.6 3487.3,156.2 3474.5,156.7 3461.6,157.3 3448.7,157.9 3435.8,158.5 3423.0,159.1 3410.1,159.8 3397.2,160.5 3384.3,161.2 3371.4,161.9 3358.6,162.6 3345.7,163.3 3332.8,164.1 3319.9,164.9 3307.1,165.7 3294.2,166.5 3281.3,167.4 3268.4,168.2 3255.6,169.1 3242.7,170.0 3229.8,170.9 3216.9,171.9 3204.0,172.8 3191.2,173.8 3178.3,174.8 3165.4,175.8 3152.5,176.8 3139.7,177.9 3126.8,178.9 3113.9,180.0 3101.0,181.1 3088.1,182.2 3075.3,183.4 3062.4,184.5 3049.5,185.7 3036.6,186.9 3023.8,188.1 3010.9,189.4 2998.0,190.6" fill="#5B8DD4"/><polyline points="2998.0,190.6 3010.9,189.4 3023.8,188.1 3036.6,186.9 3049.5,185.7 3062.4,184.5 3075.3,183.4 3088.1,182.2 3101.0,181.1 3113.9,180.0 3126.8,178.9 3139.7,177.9 3152.5,176.8 3165.4,175.8 3178.3,174.8 3191.2,173.8 3204.0,172.8 3216.9,171.9 3229.8,170.9 3242.7,170.0 3255.6,169.1 3268.4,168.2 3281.3,167.4 3294.2,166.5 3307.1,165.7 3319.9,164.9 3332.8,164.1 3345.7,163.3 3358.6,162.6 3371.4,161.9 3384.3,161.2 3397.2,160.5 3410.1,159.8 3423.0,159.1 3435.8,158.5 3448.7,157.9 3461.6,157.3 3474.5,156.7 3487.3,156.2 3500.2,155.6 3513.1,155.1 3526.0,154.6 3538.9,154.1 3551.7,153.6 3564.6,153.2 3577.5,152.8 3590.4,152.4 3603.2,152.0 3616.1,151.6 3629.0,151.2" fill="none" stroke="#1A2A70" stroke-width="1.5"/><polygon points="3058.0,184.4 3069.7,183.4 3081.3,182.3 3093.0,181.3 3104.6,180.3 3116.3,179.3 3127.9,178.3 3139.6,177.4 3151.2,176.4 3162.9,175.5 3174.5,174.6 3186.2,173.7 3197.8,172.8 3209.5,171.9 3221.1,171.0 3232.8,170.2 3244.4,169.4 3256.1,168.6 3267.8,167.8 3279.4,167.0 3291.1,166.2 3302.7,165.5 3314.4,164.7 3326.0,164.0 3337.7,163.3 3349.3,162.6 3361.0,162.0 3372.6,161.3 3384.3,160.7 3395.9,160.0 3407.6,159.4 3419.2,158.8 3430.9,158.3 3442.6,157.7 3454.2,157.1 3465.9,156.6 3477.5,156.1 3489.2,155.6 3500.8,155.1 3512.5,154.6 3524.1,154.2 3535.8,153.7 3547.4,153.3 3559.1,152.9 3570.7,152.5 3582.4,152.1 3594.0,151.7 3605.7,151.4 3617.3,151.1 3629.0,150.7 3629.0,155.2 3617.3,155.6 3605.7,155.9 3594.0,156.2 3582.4,156.6 3570.7,157.0 3559.1,157.4 3547.4,157.8 3535.8,158.2 3524.1,158.7 3512.5,159.1 3500.8,159.6 3489.2,160.1 3477.5,160.6 3465.9,161.1 3454.2,161.6 3442.6,162.2 3430.9,162.8 3419.2,163.3 3407.6,163.9 3395.9,164.5 3384.3,165.2 3372.6,165.8 3361.0,166.5 3349.3,167.1 3337.7,167.8 3326.0,168.5 3314.4,169.2 3302.7,170.0 3291.1,170.7 3279.4,171.5 3267.8,172.3 3256.1,173.1 3244.4,173.9 3232.8,174.7 3221.1,175.5 3209.5,176.4 3197.8,177.3 3186.2,178.2 3174.5,179.1 3162.9,180.0 3151.2,180.9 3139.6,181.9 3127.9,182.8 3116.3,183.8 3104.6,184.8 3093.0,185.8 3081.3,186.8 3069.7,187.9 3058.0,188.9" fill="#221A2A"/><polygon points="3018.0,188.7 3058.0,184.9 3058.0,188.4" fill="#0C1060"/><polygon points="3058.0,188.4 3069.7,187.4 3081.3,186.3 3093.0,185.3 3104.6,184.3 3116.3,183.3 3127.9,182.3 3139.6,181.4 3151.2,180.4 3162.9,179.5 3174.5,178.6 3186.2,177.7 3197.8,176.8 3209.5,175.9 3221.1,175.0 3232.8,174.2 3244.4,173.4 3256.1,172.6 3267.8,171.8 3279.4,171.0 3291.1,170.2 3302.7,169.5 3314.4,168.7 3326.0,168.0 3337.7,167.3 3349.3,166.6 3361.0,166.0 3372.6,165.3 3384.3,164.7 3395.9,164.0 3407.6,163.4 3419.2,162.8 3430.9,162.3 3442.6,161.7 3454.2,161.1 3465.9,160.6 3477.5,160.1 3489.2,159.6 3500.8,159.1 3512.5,158.6 3524.1,158.2 3535.8,157.7 3547.4,157.3 3559.1,156.9 3570.7,156.5 3582.4,156.1 3594.0,155.7 3605.7,155.4 3617.3,155.1 3629.0,154.7 3629.0,187.6 3617.3,188.1 3605.7,188.5 3594.0,189.0 3582.4,189.5 3570.7,190.0 3559.1,190.6 3547.4,191.1 3535.8,191.7 3524.1,192.3 3512.5,192.8 3500.8,193.5 3489.2,194.1 3477.5,194.7 3465.9,195.4 3454.2,196.1 3442.6,196.8 3430.9,197.5 3419.2,198.2 3407.6,199.0 3395.9,199.7 3384.3,200.5 3372.6,201.3 3361.0,202.1 3349.3,202.9 3337.7,203.8 3326.0,204.6 3314.4,205.5 3302.7,206.4 3291.1,207.3 3279.4,208.2 3267.8,209.2 3256.1,210.1 3244.4,211.1 3232.8,212.1 3221.1,213.1 3209.5,214.1 3197.8,215.2 3186.2,216.2 3174.5,217.3 3162.9,218.4 3151.2,219.5 3139.6,220.6 3127.9,221.8 3116.3,222.9 3104.6,224.1 3093.0,225.3 3081.3,226.5 3069.7,227.7 3058.0,229.0" fill="#5B8DD4"/><polyline points="3058.0,229.0 3069.7,227.7 3081.3,226.5 3093.0,225.3 3104.6,224.1 3116.3,222.9 3127.9,221.8 3139.6,220.6 3151.2,219.5 3162.9,218.4 3174.5,217.3 3186.2,216.2 3197.8,215.2 3209.5,214.1 3221.1,213.1 3232.8,212.1 3244.4,211.1 3256.1,210.1 3267.8,209.2 3279.4,208.2 3291.1,207.3 3302.7,206.4 3314.4,205.5 3326.0,204.6 3337.7,203.8 3349.3,202.9 3361.0,202.1 3372.6,201.3 3384.3,200.5 3395.9,199.7 3407.6,199.0 3419.2,198.2 3430.9,197.5 3442.6,196.8 3454.2,196.1 3465.9,195.4 3477.5,194.7 3489.2,194.1 3500.8,193.5 3512.5,192.8 3524.1,192.3 3535.8,191.7 3547.4,191.1 3559.1,190.6 3570.7,190.0 3582.4,189.5 3594.0,189.0 3605.7,188.5 3617.3,188.1 3629.0,187.6" fill="none" stroke="#1A2A70" stroke-width="1.5"/><polygon points="3116.0,222.5 3126.5,221.4 3136.9,220.4 3147.4,219.4 3157.9,218.4 3168.3,217.4 3178.8,216.4 3189.3,215.5 3199.8,214.5 3210.2,213.6 3220.7,212.7 3231.2,211.7 3241.6,210.9 3252.1,210.0 3262.6,209.1 3273.0,208.2 3283.5,207.4 3294.0,206.6 3304.4,205.8 3314.9,205.0 3325.4,204.2 3335.9,203.4 3346.3,202.6 3356.8,201.9 3367.3,201.2 3377.7,200.4 3388.2,199.7 3398.7,199.0 3409.1,198.4 3419.6,197.7 3430.1,197.0 3440.6,196.4 3451.0,195.8 3461.5,195.1 3472.0,194.5 3482.4,194.0 3492.9,193.4 3503.4,192.8 3513.8,192.3 3524.3,191.7 3534.8,191.2 3545.2,190.7 3555.7,190.2 3566.2,189.7 3576.7,189.3 3587.1,188.8 3597.6,188.4 3608.1,187.9 3618.5,187.5 3629.0,187.1 3629.0,193.1 3618.5,193.5 3608.1,193.9 3597.6,194.4 3587.1,194.8 3576.7,195.3 3566.2,195.7 3555.7,196.2 3545.2,196.7 3534.8,197.2 3524.3,197.7 3513.8,198.3 3503.4,198.8 3492.9,199.4 3482.4,200.0 3472.0,200.5 3461.5,201.1 3451.0,201.8 3440.6,202.4 3430.1,203.0 3419.6,203.7 3409.1,204.4 3398.7,205.0 3388.2,205.7 3377.7,206.4 3367.3,207.2 3356.8,207.9 3346.3,208.6 3335.9,209.4 3325.4,210.2 3314.9,211.0 3304.4,211.8 3294.0,212.6 3283.5,213.4 3273.0,214.2 3262.6,215.1 3252.1,216.0 3241.6,216.9 3231.2,217.7 3220.7,218.7 3210.2,219.6 3199.8,220.5 3189.3,221.5 3178.8,222.4 3168.3,223.4 3157.9,224.4 3147.4,225.4 3136.9,226.4 3126.5,227.4 3116.0,228.5" fill="#2A180E"/><polygon points="3076.0,227.1 3116.0,223.0 3116.0,228.0" fill="#0C1060"/><polygon points="3116.0,228.0 3126.5,226.9 3136.9,225.9 3147.4,224.9 3157.9,223.9 3168.3,222.9 3178.8,221.9 3189.3,221.0 3199.8,220.0 3210.2,219.1 3220.7,218.2 3231.2,217.2 3241.6,216.4 3252.1,215.5 3262.6,214.6 3273.0,213.7 3283.5,212.9 3294.0,212.1 3304.4,211.3 3314.9,210.5 3325.4,209.7 3335.9,208.9 3346.3,208.1 3356.8,207.4 3367.3,206.7 3377.7,205.9 3388.2,205.2 3398.7,204.5 3409.1,203.9 3419.6,203.2 3430.1,202.5 3440.6,201.9 3451.0,201.3 3461.5,200.6 3472.0,200.0 3482.4,199.5 3492.9,198.9 3503.4,198.3 3513.8,197.8 3524.3,197.2 3534.8,196.7 3545.2,196.2 3555.7,195.7 3566.2,195.2 3576.7,194.8 3587.1,194.3 3597.6,193.9 3608.1,193.4 3618.5,193.0 3629.0,192.6 3629.0,226.6 3618.5,227.1 3608.1,227.5 3597.6,228.0 3587.1,228.5 3576.7,229.0 3566.2,229.5 3555.7,230.1 3545.2,230.6 3534.8,231.2 3524.3,231.8 3513.8,232.4 3503.4,233.0 3492.9,233.6 3482.4,234.3 3472.0,234.9 3461.5,235.6 3451.0,236.3 3440.6,237.0 3430.1,237.8 3419.6,238.5 3409.1,239.3 3398.7,240.0 3388.2,240.8 3377.7,241.7 3367.3,242.5 3356.8,243.3 3346.3,244.2 3335.9,245.0 3325.4,245.9 3314.9,246.8 3304.4,247.8 3294.0,248.7 3283.5,249.7 3273.0,250.6 3262.6,251.6 3252.1,252.6 3241.6,253.6 3231.2,254.7 3220.7,255.7 3210.2,256.8 3199.8,257.9 3189.3,259.0 3178.8,260.1 3168.3,261.2 3157.9,262.3 3147.4,263.5 3136.9,264.7 3126.5,265.9 3116.0,267.1" fill="#5B8DD4"/><polyline points="3116.0,267.1 3126.5,265.9 3136.9,264.7 3147.4,263.5 3157.9,262.3 3168.3,261.2 3178.8,260.1 3189.3,259.0 3199.8,257.9 3210.2,256.8 3220.7,255.7 3231.2,254.7 3241.6,253.6 3252.1,252.6 3262.6,251.6 3273.0,250.6 3283.5,249.7 3294.0,248.7 3304.4,247.8 3314.9,246.8 3325.4,245.9 3335.9,245.0 3346.3,244.2 3356.8,243.3 3367.3,242.5 3377.7,241.7 3388.2,240.8 3398.7,240.0 3409.1,239.3 3419.6,238.5 3430.1,237.8 3440.6,237.0 3451.0,236.3 3461.5,235.6 3472.0,234.9 3482.4,234.3 3492.9,233.6 3503.4,233.0 3513.8,232.4 3524.3,231.8 3534.8,231.2 3545.2,230.6 3555.7,230.1 3566.2,229.5 3576.7,229.0 3587.1,228.5 3597.6,228.0 3608.1,227.5 3618.5,227.1 3629.0,226.6" fill="none" stroke="#1A2A70" stroke-width="1.5"/><polygon points="3176.0,259.9 3185.2,258.9 3194.5,257.9 3203.7,256.9 3213.0,256.0 3222.2,255.1 3231.5,254.1 3240.7,253.2 3250.0,252.3 3259.2,251.4 3268.4,250.6 3277.7,249.7 3286.9,248.8 3296.2,248.0 3305.4,247.2 3314.7,246.4 3323.9,245.6 3333.2,244.8 3342.4,244.0 3351.7,243.2 3360.9,242.5 3370.1,241.7 3379.4,241.0 3388.6,240.3 3397.9,239.6 3407.1,238.9 3416.4,238.2 3425.6,237.6 3434.9,236.9 3444.1,236.3 3453.3,235.7 3462.6,235.0 3471.8,234.4 3481.1,233.9 3490.3,233.3 3499.6,232.7 3508.8,232.2 3518.1,231.6 3527.3,231.1 3536.6,230.6 3545.8,230.1 3555.0,229.6 3564.3,229.1 3573.5,228.6 3582.8,228.2 3592.0,227.8 3601.3,227.3 3610.5,226.9 3619.8,226.5 3629.0,226.1 3629.0,233.1 3619.8,233.5 3610.5,233.9 3601.3,234.3 3592.0,234.8 3582.8,235.2 3573.5,235.6 3564.3,236.1 3555.0,236.6 3545.8,237.1 3536.6,237.6 3527.3,238.1 3518.1,238.6 3508.8,239.2 3499.6,239.7 3490.3,240.3 3481.1,240.9 3471.8,241.4 3462.6,242.0 3453.3,242.7 3444.1,243.3 3434.9,243.9 3425.6,244.6 3416.4,245.2 3407.1,245.9 3397.9,246.6 3388.6,247.3 3379.4,248.0 3370.1,248.7 3360.9,249.5 3351.7,250.2 3342.4,251.0 3333.2,251.8 3323.9,252.6 3314.7,253.4 3305.4,254.2 3296.2,255.0 3286.9,255.8 3277.7,256.7 3268.4,257.6 3259.2,258.4 3250.0,259.3 3240.7,260.2 3231.5,261.1 3222.2,262.1 3213.0,263.0 3203.7,263.9 3194.5,264.9 3185.2,265.9 3176.0,266.9" fill="#2A180E"/><polygon points="3136.0,264.8 3176.0,260.4 3176.0,266.4" fill="#0C1060"/><polygon points="3176.0,266.4 3185.2,265.4 3194.5,264.4 3203.7,263.4 3213.0,262.5 3222.2,261.6 3231.5,260.6 3240.7,259.7 3250.0,258.8 3259.2,257.9 3268.4,257.1 3277.7,256.2 3286.9,255.3 3296.2,254.5 3305.4,253.7 3314.7,252.9 3323.9,252.1 3333.2,251.3 3342.4,250.5 3351.7,249.7 3360.9,249.0 3370.1,248.2 3379.4,247.5 3388.6,246.8 3397.9,246.1 3407.1,245.4 3416.4,244.7 3425.6,244.1 3434.9,243.4 3444.1,242.8 3453.3,242.2 3462.6,241.5 3471.8,240.9 3481.1,240.4 3490.3,239.8 3499.6,239.2 3508.8,238.7 3518.1,238.1 3527.3,237.6 3536.6,237.1 3545.8,236.6 3555.0,236.1 3564.3,235.6 3573.5,235.1 3582.8,234.7 3592.0,234.3 3601.3,233.8 3610.5,233.4 3619.8,233.0 3629.0,232.6 3629.0,269.4 3619.8,269.9 3610.5,270.5 3601.3,271.0 3592.0,271.6 3582.8,272.2 3573.5,272.8 3564.3,273.4 3555.0,274.0 3545.8,274.6 3536.6,275.3 3527.3,275.9 3518.1,276.6 3508.8,277.3 3499.6,277.9 3490.3,278.6 3481.1,279.4 3471.8,280.1 3462.6,280.8 3453.3,281.6 3444.1,282.3 3434.9,283.1 3425.6,283.9 3416.4,284.7 3407.1,285.5 3397.9,286.3 3388.6,287.1 3379.4,288.0 3370.1,288.8 3360.9,289.7 3351.7,290.6 3342.4,291.5 3333.2,292.4 3323.9,293.3 3314.7,294.2 3305.4,295.2 3296.2,296.1 3286.9,297.1 3277.7,298.1 3268.4,299.1 3259.2,300.1 3250.0,301.1 3240.7,302.1 3231.5,303.2 3222.2,304.2 3213.0,305.3 3203.7,306.4 3194.5,307.4 3185.2,308.5 3176.0,309.7" fill="#5B8DD4"/><polyline points="3176.0,309.7 3185.2,308.5 3194.5,307.4 3203.7,306.4 3213.0,305.3 3222.2,304.2 3231.5,303.2 3240.7,302.1 3250.0,301.1 3259.2,300.1 3268.4,299.1 3277.7,298.1 3286.9,297.1 3296.2,296.1 3305.4,295.2 3314.7,294.2 3323.9,293.3 3333.2,292.4 3342.4,291.5 3351.7,290.6 3360.9,289.7 3370.1,288.8 3379.4,288.0 3388.6,287.1 3397.9,286.3 3407.1,285.5 3416.4,284.7 3425.6,283.9 3434.9,283.1 3444.1,282.3 3453.3,281.6 3462.6,280.8 3471.8,280.1 3481.1,279.4 3490.3,278.6 3499.6,277.9 3508.8,277.3 3518.1,276.6 3527.3,275.9 3536.6,275.3 3545.8,274.6 3555.0,274.0 3564.3,273.4 3573.5,272.8 3582.8,272.2 3592.0,271.6 3601.3,271.0 3610.5,270.5 3619.8,269.9 3629.0,269.4" fill="none" stroke="#1A2A70" stroke-width="1.5"/><polygon points="3235.0,302.3 3243.0,301.4 3251.1,300.5 3259.1,299.6 3267.2,298.7 3275.2,297.9 3283.2,297.0 3291.3,296.2 3299.3,295.3 3307.4,294.5 3315.4,293.7 3323.4,292.9 3331.5,292.1 3339.5,291.3 3347.6,290.5 3355.6,289.7 3363.7,289.0 3371.7,288.2 3379.7,287.5 3387.8,286.7 3395.8,286.0 3403.9,285.3 3411.9,284.6 3419.9,283.9 3428.0,283.2 3436.0,282.5 3444.1,281.8 3452.1,281.2 3460.1,280.5 3468.2,279.9 3476.2,279.2 3484.3,278.6 3492.3,278.0 3500.3,277.4 3508.4,276.8 3516.4,276.2 3524.5,275.6 3532.5,275.0 3540.6,274.5 3548.6,273.9 3556.6,273.4 3564.7,272.9 3572.7,272.3 3580.8,271.8 3588.8,271.3 3596.8,270.8 3604.9,270.3 3612.9,269.8 3621.0,269.4 3629.0,268.9 3629.0,277.9 3621.0,278.4 3612.9,278.8 3604.9,279.3 3596.8,279.8 3588.8,280.3 3580.8,280.8 3572.7,281.3 3564.7,281.9 3556.6,282.4 3548.6,282.9 3540.6,283.5 3532.5,284.0 3524.5,284.6 3516.4,285.2 3508.4,285.8 3500.3,286.4 3492.3,287.0 3484.3,287.6 3476.2,288.2 3468.2,288.9 3460.1,289.5 3452.1,290.2 3444.1,290.8 3436.0,291.5 3428.0,292.2 3419.9,292.9 3411.9,293.6 3403.9,294.3 3395.8,295.0 3387.8,295.7 3379.7,296.5 3371.7,297.2 3363.7,298.0 3355.6,298.7 3347.6,299.5 3339.5,300.3 3331.5,301.1 3323.4,301.9 3315.4,302.7 3307.4,303.5 3299.3,304.3 3291.3,305.2 3283.2,306.0 3275.2,306.9 3267.2,307.7 3259.1,308.6 3251.1,309.5 3243.0,310.4 3235.0,311.3" fill="#2A180E"/><polygon points="3195.0,307.4 3235.0,302.8 3235.0,310.8" fill="#0C1060"/><polygon points="3235.0,310.8 3243.0,309.9 3251.1,309.0 3259.1,308.1 3267.2,307.2 3275.2,306.4 3283.2,305.5 3291.3,304.7 3299.3,303.8 3307.4,303.0 3315.4,302.2 3323.4,301.4 3331.5,300.6 3339.5,299.8 3347.6,299.0 3355.6,298.2 3363.7,297.5 3371.7,296.7 3379.7,296.0 3387.8,295.2 3395.8,294.5 3403.9,293.8 3411.9,293.1 3419.9,292.4 3428.0,291.7 3436.0,291.0 3444.1,290.3 3452.1,289.7 3460.1,289.0 3468.2,288.4 3476.2,287.7 3484.3,287.1 3492.3,286.5 3500.3,285.9 3508.4,285.3 3516.4,284.7 3524.5,284.1 3532.5,283.5 3540.6,283.0 3548.6,282.4 3556.6,281.9 3564.7,281.4 3572.7,280.8 3580.8,280.3 3588.8,279.8 3596.8,279.3 3604.9,278.8 3612.9,278.3 3621.0,277.9 3629.0,277.4 3629.0,312.4 3621.0,313.0 3612.9,313.7 3604.9,314.3 3596.8,315.0 3588.8,315.6 3580.8,316.3 3572.7,317.0 3564.7,317.6 3556.6,318.3 3548.6,319.0 3540.6,319.7 3532.5,320.5 3524.5,321.2 3516.4,321.9 3508.4,322.6 3500.3,323.4 3492.3,324.1 3484.3,324.9 3476.2,325.7 3468.2,326.4 3460.1,327.2 3452.1,328.0 3444.1,328.8 3436.0,329.6 3428.0,330.4 3419.9,331.3 3411.9,332.1 3403.9,332.9 3395.8,333.8 3387.8,334.6 3379.7,335.5 3371.7,336.4 3363.7,337.2 3355.6,338.1 3347.6,339.0 3339.5,339.9 3331.5,340.8 3323.4,341.7 3315.4,342.7 3307.4,343.6 3299.3,344.5 3291.3,345.5 3283.2,346.4 3275.2,347.4 3267.2,348.4 3259.1,349.3 3251.1,350.3 3243.0,351.3 3235.0,352.3" fill="#5B8DD4"/><polyline points="3235.0,352.3 3243.0,351.3 3251.1,350.3 3259.1,349.3 3267.2,348.4 3275.2,347.4 3283.2,346.4 3291.3,345.5 3299.3,344.5 3307.4,343.6 3315.4,342.7 3323.4,341.7 3331.5,340.8 3339.5,339.9 3347.6,339.0 3355.6,338.1 3363.7,337.2 3371.7,336.4 3379.7,335.5 3387.8,334.6 3395.8,333.8 3403.9,332.9 3411.9,332.1 3419.9,331.3 3428.0,330.4 3436.0,329.6 3444.1,328.8 3452.1,328.0 3460.1,327.2 3468.2,326.4 3476.2,325.7 3484.3,324.9 3492.3,324.1 3500.3,323.4 3508.4,322.6 3516.4,321.9 3524.5,321.2 3532.5,320.5 3540.6,319.7 3548.6,319.0 3556.6,318.3 3564.7,317.6 3572.7,317.0 3580.8,316.3 3588.8,315.6 3596.8,315.0 3604.9,314.3 3612.9,313.7 3621.0,313.0 3629.0,312.4" fill="none" stroke="#1A2A70" stroke-width="1.5"/><polygon points="3294.0,344.7 3300.8,343.9 3307.7,343.1 3314.5,342.3 3321.3,341.5 3328.2,340.7 3335.0,339.9 3341.9,339.2 3348.7,338.4 3355.5,337.6 3362.4,336.9 3369.2,336.1 3376.0,335.4 3382.9,334.7 3389.7,333.9 3396.6,333.2 3403.4,332.5 3410.2,331.8 3417.1,331.1 3423.9,330.4 3430.7,329.7 3437.6,329.0 3444.4,328.3 3451.2,327.6 3458.1,326.9 3464.9,326.3 3471.8,325.6 3478.6,324.9 3485.4,324.3 3492.3,323.6 3499.1,323.0 3505.9,322.4 3512.8,321.7 3519.6,321.1 3526.4,320.5 3533.3,319.9 3540.1,319.3 3547.0,318.7 3553.8,318.1 3560.6,317.5 3567.5,316.9 3574.3,316.3 3581.1,315.8 3588.0,315.2 3594.8,314.6 3601.7,314.1 3608.5,313.5 3615.3,313.0 3622.2,312.4 3629.0,311.9 3629.0,323.9 3622.2,324.4 3615.3,325.0 3608.5,325.5 3601.7,326.1 3594.8,326.6 3588.0,327.2 3581.1,327.8 3574.3,328.3 3567.5,328.9 3560.6,329.5 3553.8,330.1 3547.0,330.7 3540.1,331.3 3533.3,331.9 3526.4,332.5 3519.6,333.1 3512.8,333.7 3505.9,334.4 3499.1,335.0 3492.3,335.6 3485.4,336.3 3478.6,336.9 3471.8,337.6 3464.9,338.3 3458.1,338.9 3451.2,339.6 3444.4,340.3 3437.6,341.0 3430.7,341.7 3423.9,342.4 3417.1,343.1 3410.2,343.8 3403.4,344.5 3396.6,345.2 3389.7,345.9 3382.9,346.7 3376.0,347.4 3369.2,348.1 3362.4,348.9 3355.5,349.6 3348.7,350.4 3341.9,351.2 3335.0,351.9 3328.2,352.7 3321.3,353.5 3314.5,354.3 3307.7,355.1 3300.8,355.9 3294.0,356.7" fill="#2A180E"/><polygon points="3254.0,350.0 3294.0,345.2 3294.0,356.2" fill="#0C1060"/><polygon points="3294.0,356.2 3300.8,355.4 3307.7,354.6 3314.5,353.8 3321.3,353.0 3328.2,352.2 3335.0,351.4 3341.9,350.7 3348.7,349.9 3355.5,349.1 3362.4,348.4 3369.2,347.6 3376.0,346.9 3382.9,346.2 3389.7,345.4 3396.6,344.7 3403.4,344.0 3410.2,343.3 3417.1,342.6 3423.9,341.9 3430.7,341.2 3437.6,340.5 3444.4,339.8 3451.2,339.1 3458.1,338.4 3464.9,337.8 3471.8,337.1 3478.6,336.4 3485.4,335.8 3492.3,335.1 3499.1,334.5 3505.9,333.9 3512.8,333.2 3519.6,332.6 3526.4,332.0 3533.3,331.4 3540.1,330.8 3547.0,330.2 3553.8,329.6 3560.6,329.0 3567.5,328.4 3574.3,327.8 3581.1,327.3 3588.0,326.7 3594.8,326.1 3601.7,325.6 3608.5,325.0 3615.3,324.5 3622.2,323.9 3629.0,323.4 3629.0,359.3 3622.2,360.0 3615.3,360.7 3608.5,361.3 3601.7,362.0 3594.8,362.6 3588.0,363.3 3581.1,364.0 3574.3,364.7 3567.5,365.4 3560.6,366.1 3553.8,366.8 3547.0,367.5 3540.1,368.2 3533.3,368.9 3526.4,369.6 3519.6,370.3 3512.8,371.0 3505.9,371.7 3499.1,372.5 3492.3,373.2 3485.4,373.9 3478.6,374.7 3471.8,375.4 3464.9,376.2 3458.1,376.9 3451.2,377.7 3444.4,378.4 3437.6,379.2 3430.7,380.0 3423.9,380.8 3417.1,381.5 3410.2,382.3 3403.4,383.1 3396.6,383.9 3389.7,384.7 3382.9,385.5 3376.0,386.3 3369.2,387.1 3362.4,387.9 3355.5,388.7 3348.7,389.5 3341.9,390.4 3335.0,391.2 3328.2,392.0 3321.3,392.9 3314.5,393.7 3307.7,394.6 3300.8,395.4 3294.0,396.3" fill="#5B8DD4"/><polyline points="3294.0,396.3 3300.8,395.4 3307.7,394.6 3314.5,393.7 3321.3,392.9 3328.2,392.0 3335.0,391.2 3341.9,390.4 3348.7,389.5 3355.5,388.7 3362.4,387.9 3369.2,387.1 3376.0,386.3 3382.9,385.5 3389.7,384.7 3396.6,383.9 3403.4,383.1 3410.2,382.3 3417.1,381.5 3423.9,380.8 3430.7,380.0 3437.6,379.2 3444.4,378.4 3451.2,377.7 3458.1,376.9 3464.9,376.2 3471.8,375.4 3478.6,374.7 3485.4,373.9 3492.3,373.2 3499.1,372.5 3505.9,371.7 3512.8,371.0 3519.6,370.3 3526.4,369.6 3533.3,368.9 3540.1,368.2 3547.0,367.5 3553.8,366.8 3560.6,366.1 3567.5,365.4 3574.3,364.7 3581.1,364.0 3588.0,363.3 3594.8,362.6 3601.7,362.0 3608.5,361.3 3615.3,360.7 3622.2,360.0 3629.0,359.3" fill="none" stroke="#1A2A70" stroke-width="1.5"/><polygon points="3352.0,388.6 3357.7,388.0 3363.3,387.3 3369.0,386.6 3374.6,386.0 3380.3,385.3 3385.9,384.6 3391.6,384.0 3397.2,383.3 3402.9,382.7 3408.5,382.0 3414.2,381.4 3419.8,380.7 3425.5,380.1 3431.1,379.4 3436.8,378.8 3442.4,378.2 3448.1,377.5 3453.8,376.9 3459.4,376.3 3465.1,375.7 3470.7,375.0 3476.4,374.4 3482.0,373.8 3487.7,373.2 3493.3,372.6 3499.0,372.0 3504.6,371.4 3510.3,370.8 3515.9,370.2 3521.6,369.6 3527.2,369.0 3532.9,368.4 3538.6,367.8 3544.2,367.2 3549.9,366.7 3555.5,366.1 3561.2,365.5 3566.8,364.9 3572.5,364.4 3578.1,363.8 3583.8,363.2 3589.4,362.7 3595.1,362.1 3600.7,361.6 3606.4,361.0 3612.0,360.5 3617.7,359.9 3623.3,359.4 3629.0,358.8 3629.0,371.3 3623.3,371.9 3617.7,372.4 3612.0,373.0 3606.4,373.5 3600.7,374.1 3595.1,374.6 3589.4,375.2 3583.8,375.7 3578.1,376.3 3572.5,376.9 3566.8,377.4 3561.2,378.0 3555.5,378.6 3549.9,379.2 3544.2,379.7 3538.6,380.3 3532.9,380.9 3527.2,381.5 3521.6,382.1 3515.9,382.7 3510.3,383.3 3504.6,383.9 3499.0,384.5 3493.3,385.1 3487.7,385.7 3482.0,386.3 3476.4,386.9 3470.7,387.5 3465.1,388.2 3459.4,388.8 3453.8,389.4 3448.1,390.0 3442.4,390.7 3436.8,391.3 3431.1,391.9 3425.5,392.6 3419.8,393.2 3414.2,393.9 3408.5,394.5 3402.9,395.2 3397.2,395.8 3391.6,396.5 3385.9,397.1 3380.3,397.8 3374.6,398.5 3369.0,399.1 3363.3,399.8 3357.7,400.5 3352.0,401.1" fill="#2A180E"/><polygon points="3312.0,394.0 3352.0,389.1 3352.0,400.6" fill="#0C1060"/><polygon points="3352.0,400.6 3357.7,400.0 3363.3,399.3 3369.0,398.6 3374.6,398.0 3380.3,397.3 3385.9,396.6 3391.6,396.0 3397.2,395.3 3402.9,394.7 3408.5,394.0 3414.2,393.4 3419.8,392.7 3425.5,392.1 3431.1,391.4 3436.8,390.8 3442.4,390.2 3448.1,389.5 3453.8,388.9 3459.4,388.3 3465.1,387.7 3470.7,387.0 3476.4,386.4 3482.0,385.8 3487.7,385.2 3493.3,384.6 3499.0,384.0 3504.6,383.4 3510.3,382.8 3515.9,382.2 3521.6,381.6 3527.2,381.0 3532.9,380.4 3538.6,379.8 3544.2,379.2 3549.9,378.7 3555.5,378.1 3561.2,377.5 3566.8,376.9 3572.5,376.4 3578.1,375.8 3583.8,375.2 3589.4,374.7 3595.1,374.1 3600.7,373.6 3606.4,373.0 3612.0,372.5 3617.7,371.9 3623.3,371.4 3629.0,370.8 3629.0,409.1 3623.3,410.0 3617.7,410.8 3612.0,411.7 3606.4,412.5 3600.7,413.4 3595.1,414.2 3589.4,415.1 3583.8,415.9 3578.1,416.7 3572.5,417.5 3566.8,418.3 3561.2,419.1 3555.5,419.9 3549.9,420.7 3544.2,421.5 3538.6,422.3 3532.9,423.1 3527.2,423.8 3521.6,424.6 3515.9,425.3 3510.3,426.1 3504.6,426.8 3499.0,427.6 3493.3,428.3 3487.7,429.0 3482.0,429.7 3476.4,430.5 3470.7,431.2 3465.1,431.9 3459.4,432.6 3453.8,433.2 3448.1,433.9 3442.4,434.6 3436.8,435.3 3431.1,435.9 3425.5,436.6 3419.8,437.2 3414.2,437.9 3408.5,438.5 3402.9,439.2 3397.2,439.8 3391.6,440.4 3385.9,441.0 3380.3,441.6 3374.6,442.2 3369.0,442.8 3363.3,443.4 3357.7,444.0 3352.0,444.6" fill="#5B8DD4"/><polyline points="3352.0,444.6 3357.7,444.0 3363.3,443.4 3369.0,442.8 3374.6,442.2 3380.3,441.6 3385.9,441.0 3391.6,440.4 3397.2,439.8 3402.9,439.2 3408.5,438.5 3414.2,437.9 3419.8,437.2 3425.5,436.6 3431.1,435.9 3436.8,435.3 3442.4,434.6 3448.1,433.9 3453.8,433.2 3459.4,432.6 3465.1,431.9 3470.7,431.2 3476.4,430.5 3482.0,429.7 3487.7,429.0 3493.3,428.3 3499.0,427.6 3504.6,426.8 3510.3,426.1 3515.9,425.3 3521.6,424.6 3527.2,423.8 3532.9,423.1 3538.6,422.3 3544.2,421.5 3549.9,420.7 3555.5,419.9 3561.2,419.1 3566.8,418.3 3572.5,417.5 3578.1,416.7 3583.8,415.9 3589.4,415.1 3595.1,414.2 3600.7,413.4 3606.4,412.5 3612.0,411.7 3617.7,410.8 3623.3,410.0 3629.0,409.1" fill="none" stroke="#1A2A70" stroke-width="1.5"/><polygon points="3411.5,437.7 3415.9,437.2 3420.4,436.7 3424.8,436.2 3429.3,435.7 3433.7,435.1 3438.1,434.6 3442.6,434.1 3447.0,433.6 3451.4,433.0 3455.9,432.5 3460.3,431.9 3464.8,431.4 3469.2,430.9 3473.6,430.3 3478.1,429.7 3482.5,429.2 3487.0,428.6 3491.4,428.0 3495.8,427.5 3500.3,426.9 3504.7,426.3 3509.2,425.7 3513.6,425.2 3518.0,424.6 3522.5,424.0 3526.9,423.4 3531.3,422.8 3535.8,422.2 3540.2,421.6 3544.7,420.9 3549.1,420.3 3553.5,419.7 3558.0,419.1 3562.4,418.5 3566.9,417.8 3571.3,417.2 3575.7,416.5 3580.2,415.9 3584.6,415.3 3589.1,414.6 3593.5,414.0 3597.9,413.3 3602.4,412.6 3606.8,412.0 3611.2,411.3 3615.7,410.6 3620.1,410.0 3624.6,409.3 3629.0,408.6 3629.0,423.6 3624.6,424.3 3620.1,425.0 3615.7,425.6 3611.2,426.3 3606.8,427.0 3602.4,427.6 3597.9,428.3 3593.5,429.0 3589.1,429.6 3584.6,430.3 3580.2,430.9 3575.7,431.5 3571.3,432.2 3566.9,432.8 3562.4,433.5 3558.0,434.1 3553.5,434.7 3549.1,435.3 3544.7,435.9 3540.2,436.6 3535.8,437.2 3531.3,437.8 3526.9,438.4 3522.5,439.0 3518.0,439.6 3513.6,440.2 3509.2,440.7 3504.7,441.3 3500.3,441.9 3495.8,442.5 3491.4,443.0 3487.0,443.6 3482.5,444.2 3478.1,444.7 3473.6,445.3 3469.2,445.9 3464.8,446.4 3460.3,446.9 3455.9,447.5 3451.4,448.0 3447.0,448.6 3442.6,449.1 3438.1,449.6 3433.7,450.1 3429.3,450.7 3424.8,451.2 3420.4,451.7 3415.9,452.2 3411.5,452.7" fill="#2A180E"/><polygon points="3371.5,442.6 3411.5,438.2 3411.5,452.2" fill="#0C1060"/><polygon points="3411.5,452.2 3415.9,451.7 3420.4,451.2 3424.8,450.7 3429.3,450.2 3433.7,449.6 3438.1,449.1 3442.6,448.6 3447.0,448.1 3451.4,447.5 3455.9,447.0 3460.3,446.4 3464.8,445.9 3469.2,445.4 3473.6,444.8 3478.1,444.2 3482.5,443.7 3487.0,443.1 3491.4,442.5 3495.8,442.0 3500.3,441.4 3504.7,440.8 3509.2,440.2 3513.6,439.7 3518.0,439.1 3522.5,438.5 3526.9,437.9 3531.3,437.3 3535.8,436.7 3540.2,436.1 3544.7,435.4 3549.1,434.8 3553.5,434.2 3558.0,433.6 3562.4,433.0 3566.9,432.3 3571.3,431.7 3575.7,431.0 3580.2,430.4 3584.6,429.8 3589.1,429.1 3593.5,428.5 3597.9,427.8 3602.4,427.1 3606.8,426.5 3611.2,425.8 3615.7,425.1 3620.1,424.5 3624.6,423.8 3629.0,423.1 3629.0,461.7 3624.6,462.4 3620.1,463.2 3615.7,463.9 3611.2,464.7 3606.8,465.5 3602.4,466.2 3597.9,466.9 3593.5,467.7 3589.1,468.4 3584.6,469.1 3580.2,469.9 3575.7,470.6 3571.3,471.3 3566.9,472.0 3562.4,472.7 3558.0,473.4 3553.5,474.1 3549.1,474.8 3544.7,475.5 3540.2,476.2 3535.8,476.9 3531.3,477.5 3526.9,478.2 3522.5,478.9 3518.0,479.5 3513.6,480.2 3509.2,480.8 3504.7,481.5 3500.3,482.1 3495.8,482.8 3491.4,483.4 3487.0,484.0 3482.5,484.6 3478.1,485.3 3473.6,485.9 3469.2,486.5 3464.8,487.1 3460.3,487.7 3455.9,488.3 3451.4,488.9 3447.0,489.5 3442.6,490.1 3438.1,490.6 3433.7,491.2 3429.3,491.8 3424.8,492.3 3420.4,492.9 3415.9,493.4 3411.5,494.0" fill="#5B8DD4"/><polyline points="3411.5,494.0 3415.9,493.4 3420.4,492.9 3424.8,492.3 3429.3,491.8 3433.7,491.2 3438.1,490.6 3442.6,490.1 3447.0,489.5 3451.4,488.9 3455.9,488.3 3460.3,487.7 3464.8,487.1 3469.2,486.5 3473.6,485.9 3478.1,485.3 3482.5,484.6 3487.0,484.0 3491.4,483.4 3495.8,482.8 3500.3,482.1 3504.7,481.5 3509.2,480.8 3513.6,480.2 3518.0,479.5 3522.5,478.9 3526.9,478.2 3531.3,477.5 3535.8,476.9 3540.2,476.2 3544.7,475.5 3549.1,474.8 3553.5,474.1 3558.0,473.4 3562.4,472.7 3566.9,472.0 3571.3,471.3 3575.7,470.6 3580.2,469.9 3584.6,469.1 3589.1,468.4 3593.5,467.7 3597.9,466.9 3602.4,466.2 3606.8,465.5 3611.2,464.7 3615.7,463.9 3620.1,463.2 3624.6,462.4 3629.0,461.7" fill="none" stroke="#1A2A70" stroke-width="1.5"/><polygon points="3470.7,485.8 3473.9,485.3 3477.2,484.9 3480.4,484.4 3483.6,484.0 3486.9,483.5 3490.1,483.1 3493.3,482.6 3496.5,482.2 3499.8,481.7 3503.0,481.2 3506.2,480.8 3509.5,480.3 3512.7,479.8 3515.9,479.3 3519.2,478.9 3522.4,478.4 3525.6,477.9 3528.9,477.4 3532.1,476.9 3535.3,476.4 3538.5,475.9 3541.8,475.4 3545.0,474.9 3548.2,474.4 3551.5,473.9 3554.7,473.4 3557.9,472.9 3561.2,472.4 3564.4,471.9 3567.6,471.4 3570.8,470.9 3574.1,470.4 3577.3,469.8 3580.5,469.3 3583.8,468.8 3587.0,468.3 3590.2,467.7 3593.5,467.2 3596.7,466.7 3599.9,466.1 3603.2,465.6 3606.4,465.0 3609.6,464.5 3612.8,463.9 3616.1,463.4 3619.3,462.8 3622.5,462.3 3625.8,461.7 3629.0,461.2 3629.0,482.2 3625.8,482.7 3622.5,483.3 3619.3,483.8 3616.1,484.4 3612.8,484.9 3609.6,485.5 3606.4,486.0 3603.2,486.6 3599.9,487.1 3596.7,487.7 3593.5,488.2 3590.2,488.7 3587.0,489.3 3583.8,489.8 3580.5,490.3 3577.3,490.8 3574.1,491.4 3570.8,491.9 3567.6,492.4 3564.4,492.9 3561.2,493.4 3557.9,493.9 3554.7,494.4 3551.5,494.9 3548.2,495.4 3545.0,495.9 3541.8,496.4 3538.5,496.9 3535.3,497.4 3532.1,497.9 3528.9,498.4 3525.6,498.9 3522.4,499.4 3519.2,499.9 3515.9,500.3 3512.7,500.8 3509.5,501.3 3506.2,501.8 3503.0,502.2 3499.8,502.7 3496.5,503.2 3493.3,503.6 3490.1,504.1 3486.9,504.5 3483.6,505.0 3480.4,505.4 3477.2,505.9 3473.9,506.3 3470.7,506.8" fill="#2A180E"/><polygon points="3430.7,491.6 3470.7,486.3 3470.7,506.3" fill="#0C1060"/><polygon points="3470.7,506.3 3473.9,505.8 3477.2,505.4 3480.4,504.9 3483.6,504.5 3486.9,504.0 3490.1,503.6 3493.3,503.1 3496.5,502.7 3499.8,502.2 3503.0,501.7 3506.2,501.3 3509.5,500.8 3512.7,500.3 3515.9,499.8 3519.2,499.4 3522.4,498.9 3525.6,498.4 3528.9,497.9 3532.1,497.4 3535.3,496.9 3538.5,496.4 3541.8,495.9 3545.0,495.4 3548.2,494.9 3551.5,494.4 3554.7,493.9 3557.9,493.4 3561.2,492.9 3564.4,492.4 3567.6,491.9 3570.8,491.4 3574.1,490.9 3577.3,490.3 3580.5,489.8 3583.8,489.3 3587.0,488.8 3590.2,488.2 3593.5,487.7 3596.7,487.2 3599.9,486.6 3603.2,486.1 3606.4,485.5 3609.6,485.0 3612.8,484.4 3616.1,483.9 3619.3,483.3 3622.5,482.8 3625.8,482.2 3629.0,481.7 3629.0,523.7 3625.8,524.2 3622.5,524.7 3619.3,525.2 3616.1,525.7 3612.8,526.2 3609.6,526.7 3606.4,527.2 3603.2,527.7 3599.9,528.2 3596.7,528.7 3593.5,529.1 3590.2,529.6 3587.0,530.1 3583.8,530.6 3580.5,531.1 3577.3,531.6 3574.1,532.1 3570.8,532.6 3567.6,533.1 3564.4,533.6 3561.2,534.1 3557.9,534.6 3554.7,535.1 3551.5,535.6 3548.2,536.1 3545.0,536.6 3541.8,537.1 3538.5,537.6 3535.3,538.1 3532.1,538.6 3528.9,539.1 3525.6,539.6 3522.4,540.1 3519.2,540.6 3515.9,541.1 3512.7,541.6 3509.5,542.0 3506.2,542.5 3503.0,543.0 3499.8,543.5 3496.5,544.0 3493.3,544.5 3490.1,545.0 3486.9,545.5 3483.6,546.0 3480.4,546.5 3477.2,547.0 3473.9,547.5 3470.7,548.0" fill="#6DB0EE"/><polyline points="3470.7,548.0 3473.9,547.5 3477.2,547.0 3480.4,546.5 3483.6,546.0 3486.9,545.5 3490.1,545.0 3493.3,544.5 3496.5,544.0 3499.8,543.5 3503.0,543.0 3506.2,542.5 3509.5,542.0 3512.7,541.6 3515.9,541.1 3519.2,540.6 3522.4,540.1 3525.6,539.6 3528.9,539.1 3532.1,538.6 3535.3,538.1 3538.5,537.6 3541.8,537.1 3545.0,536.6 3548.2,536.1 3551.5,535.6 3554.7,535.1 3557.9,534.6 3561.2,534.1 3564.4,533.6 3567.6,533.1 3570.8,532.6 3574.1,532.1 3577.3,531.6 3580.5,531.1 3583.8,530.6 3587.0,530.1 3590.2,529.6 3593.5,529.1 3596.7,528.7 3599.9,528.2 3603.2,527.7 3606.4,527.2 3609.6,526.7 3612.8,526.2 3616.1,525.7 3619.3,525.2 3622.5,524.7 3625.8,524.2 3629.0,523.7" fill="none" stroke="#1A2A70" stroke-width="1.5"/><polygon points="3527.0,539.4 3532.4,538.5 3537.7,537.7 3543.1,536.9 3548.5,536.1 3553.8,535.2 3559.2,534.4 3564.6,533.6 3569.9,532.8 3575.3,531.9 3580.7,531.1 3586.1,530.3 3591.4,529.5 3596.8,528.6 3602.2,527.8 3607.5,527.0 3612.9,526.2 3618.3,525.3 3623.6,524.5 3629.0,523.7 3629.0,552.7 3623.6,553.5 3618.3,554.3 3612.9,555.2 3607.5,556.0 3602.2,556.8 3596.8,557.6 3591.4,558.5 3586.1,559.3 3580.7,560.1 3575.3,560.9 3569.9,561.8 3564.6,562.6 3559.2,563.4 3553.8,564.2 3548.5,565.1 3543.1,565.9 3537.7,566.7 3532.4,567.5 3527.0,568.4" fill="#2A180E"/><polygon points="2990.0,106.9 3003.0,106.9 3003.0,116.5" fill="#0C0C6A"/><line x1="2986.0" y1="105.9" x2="3001.0" y2="117.4" stroke="#F0A030" stroke-width="2"/><polygon points="3057.0,101.2 3070.0,101.2 3070.0,110.7" fill="#0C0C6A"/><line x1="3053.0" y1="100.2" x2="3068.0" y2="111.7" stroke="#F0A030" stroke-width="2"/><polygon points="3124.0,96.1 3137.0,96.1 3137.0,105.6" fill="#0C0C6A"/><line x1="3120.0" y1="95.1" x2="3135.0" y2="106.6" stroke="#F0A030" stroke-width="2"/><polygon points="3191.0,91.6 3204.0,91.6 3204.0,101.2" fill="#0C0C6A"/><line x1="3187.0" y1="90.6" x2="3202.0" y2="102.1" stroke="#F0A030" stroke-width="2"/><polygon points="3258.0,87.9 3271.0,87.9 3271.0,97.5" fill="#0C0C6A"/><line x1="3254.0" y1="86.9" x2="3269.0" y2="98.4" stroke="#F0A030" stroke-width="2"/><polygon points="3325.0,84.9 3338.0,84.9 3338.0,94.4" fill="#0C0C6A"/><line x1="3321.0" y1="83.9" x2="3336.0" y2="95.4" stroke="#F0A030" stroke-width="2"/><polygon points="3392.0,82.5 3405.0,82.5 3405.0,92.1" fill="#0C0C6A"/><line x1="3388.0" y1="81.5" x2="3403.0" y2="93.0" stroke="#F0A030" stroke-width="2"/><polygon points="3459.0,80.8 3472.0,80.8 3472.0,90.4" fill="#0C0C6A"/><line x1="3455.0" y1="79.8" x2="3470.0" y2="91.3" stroke="#F0A030" stroke-width="2"/><polygon points="3526.0,79.8 3539.0,79.8 3539.0,89.4" fill="#0C0C6A"/><line x1="3522.0" y1="78.8" x2="3537.0" y2="90.3" stroke="#F0A030" stroke-width="2"/><polygon points="3593.0,79.5 3606.0,79.5 3606.0,89.1" fill="#0C0C6A"/><line x1="3589.0" y1="78.5" x2="3604.0" y2="90.0" stroke="#F0A030" stroke-width="2"/><polygon points="3047.0,144.2 3061.3,144.2 3061.3,154.5" fill="#0C0C6A"/><line x1="3043.0" y1="143.2" x2="3059.3" y2="155.6" stroke="#F0A030" stroke-width="2"/><polygon points="3114.0,138.2 3128.3,138.2 3128.3,148.5" fill="#0C0C6A"/><line x1="3110.0" y1="137.2" x2="3126.3" y2="149.6" stroke="#F0A030" stroke-width="2"/><polygon points="3181.0,132.9 3195.3,132.9 3195.3,143.2" fill="#0C0C6A"/><line x1="3177.0" y1="131.9" x2="3193.3" y2="144.2" stroke="#F0A030" stroke-width="2"/><polygon points="3248.0,128.3 3262.3,128.3 3262.3,138.6" fill="#0C0C6A"/><line x1="3244.0" y1="127.3" x2="3260.3" y2="139.7" stroke="#F0A030" stroke-width="2"/><polygon points="3315.0,124.4 3329.3,124.4 3329.3,134.8" fill="#0C0C6A"/><line x1="3311.0" y1="123.4" x2="3327.3" y2="135.8" stroke="#F0A030" stroke-width="2"/><polygon points="3382.0,121.3 3396.3,121.3 3396.3,131.6" fill="#0C0C6A"/><line x1="3378.0" y1="120.3" x2="3394.3" y2="132.7" stroke="#F0A030" stroke-width="2"/><polygon points="3449.0,118.9 3463.3,118.9 3463.3,129.2" fill="#0C0C6A"/><line x1="3445.0" y1="117.9" x2="3461.3" y2="130.2" stroke="#F0A030" stroke-width="2"/><polygon points="3516.0,117.2 3530.3,117.2 3530.3,127.5" fill="#0C0C6A"/><line x1="3512.0" y1="116.2" x2="3528.3" y2="128.6" stroke="#F0A030" stroke-width="2"/><polygon points="3583.0,116.2 3597.3,116.2 3597.3,126.5" fill="#0C0C6A"/><line x1="3579.0" y1="115.2" x2="3595.3" y2="127.6" stroke="#F0A030" stroke-width="2"/><polygon points="3104.0,180.2 3119.7,180.2 3119.7,191.3" fill="#0C0C6A"/><line x1="3100.0" y1="179.2" x2="3117.7" y2="192.4" stroke="#F0A030" stroke-width="2"/><polygon points="3171.0,174.7 3186.7,174.7 3186.7,185.7" fill="#0C0C6A"/><line x1="3167.0" y1="173.7" x2="3184.7" y2="186.9" stroke="#F0A030" stroke-width="2"/><polygon points="3238.0,169.6 3253.7,169.6 3253.7,180.7" fill="#0C0C6A"/><line x1="3234.0" y1="168.6" x2="3251.7" y2="181.8" stroke="#F0A030" stroke-width="2"/><polygon points="3305.0,165.1 3320.7,165.1 3320.7,176.2" fill="#0C0C6A"/><line x1="3301.0" y1="164.1" x2="3318.7" y2="177.3" stroke="#F0A030" stroke-width="2"/><polygon points="3372.0,161.1 3387.7,161.1 3387.7,172.2" fill="#0C0C6A"/><line x1="3368.0" y1="160.1" x2="3385.7" y2="173.3" stroke="#F0A030" stroke-width="2"/><polygon points="3439.0,157.6 3454.7,157.6 3454.7,168.6" fill="#0C0C6A"/><line x1="3435.0" y1="156.6" x2="3452.7" y2="169.8" stroke="#F0A030" stroke-width="2"/><polygon points="3506.0,154.5 3521.7,154.5 3521.7,165.6" fill="#0C0C6A"/><line x1="3502.0" y1="153.5" x2="3519.7" y2="166.8" stroke="#F0A030" stroke-width="2"/><polygon points="3573.0,152.0 3588.7,152.0 3588.7,163.1" fill="#0C0C6A"/><line x1="3569.0" y1="151.0" x2="3586.7" y2="164.3" stroke="#F0A030" stroke-width="2"/><polygon points="3161.0,218.0 3178.1,218.0 3178.1,229.8" fill="#0C0C6A"/><line x1="3157.0" y1="217.0" x2="3176.1" y2="231.0" stroke="#F0A030" stroke-width="2"/><polygon points="3228.0,211.9 3245.1,211.9 3245.1,223.7" fill="#0C0C6A"/><line x1="3224.0" y1="210.9" x2="3243.1" y2="224.9" stroke="#F0A030" stroke-width="2"/><polygon points="3295.0,206.3 3312.1,206.3 3312.1,218.2" fill="#0C0C6A"/><line x1="3291.0" y1="205.3" x2="3310.1" y2="219.4" stroke="#F0A030" stroke-width="2"/><polygon points="3362.0,201.3 3379.1,201.3 3379.1,213.2" fill="#0C0C6A"/><line x1="3358.0" y1="200.3" x2="3377.1" y2="214.4" stroke="#F0A030" stroke-width="2"/><polygon points="3429.0,196.8 3446.1,196.8 3446.1,208.7" fill="#0C0C6A"/><line x1="3425.0" y1="195.8" x2="3444.1" y2="209.9" stroke="#F0A030" stroke-width="2"/><polygon points="3496.0,192.9 3513.1,192.9 3513.1,204.8" fill="#0C0C6A"/><line x1="3492.0" y1="191.9" x2="3511.1" y2="206.0" stroke="#F0A030" stroke-width="2"/><polygon points="3563.0,189.6 3580.1,189.6 3580.1,201.4" fill="#0C0C6A"/><line x1="3559.0" y1="188.6" x2="3578.1" y2="202.6" stroke="#F0A030" stroke-width="2"/><polygon points="3218.0,255.4 3236.4,255.4 3236.4,268.0" fill="#0C0C6A"/><line x1="3214.0" y1="254.4" x2="3234.4" y2="269.3" stroke="#F0A030" stroke-width="2"/><polygon points="3285.0,248.9 3303.4,248.9 3303.4,261.5" fill="#0C0C6A"/><line x1="3281.0" y1="247.9" x2="3301.4" y2="262.8" stroke="#F0A030" stroke-width="2"/><polygon points="3352.0,243.0 3370.4,243.0 3370.4,255.7" fill="#0C0C6A"/><line x1="3348.0" y1="242.0" x2="3368.4" y2="257.0" stroke="#F0A030" stroke-width="2"/><polygon points="3419.0,237.8 3437.4,237.8 3437.4,250.5" fill="#0C0C6A"/><line x1="3415.0" y1="236.8" x2="3435.4" y2="251.8" stroke="#F0A030" stroke-width="2"/><polygon points="3486.0,233.3 3504.4,233.3 3504.4,245.9" fill="#0C0C6A"/><line x1="3482.0" y1="232.3" x2="3502.4" y2="247.2" stroke="#F0A030" stroke-width="2"/><polygon points="3553.0,229.4 3571.4,229.4 3571.4,242.0" fill="#0C0C6A"/><line x1="3549.0" y1="228.4" x2="3569.4" y2="243.3" stroke="#F0A030" stroke-width="2"/><polygon points="3620.0,226.2 3638.4,226.2 3638.4,238.8" fill="#0C0C6A"/><line x1="3616.0" y1="225.2" x2="3636.4" y2="240.1" stroke="#F0A030" stroke-width="2"/><polygon points="3275.0,297.8 3294.8,297.8 3294.8,311.2" fill="#0C0C6A"/><line x1="3271.0" y1="296.8" x2="3292.8" y2="312.6" stroke="#F0A030" stroke-width="2"/><polygon points="3342.0,290.9 3361.8,290.9 3361.8,304.3" fill="#0C0C6A"/><line x1="3338.0" y1="289.9" x2="3359.8" y2="305.7" stroke="#F0A030" stroke-width="2"/><polygon points="3409.0,284.7 3428.8,284.7 3428.8,298.1" fill="#0C0C6A"/><line x1="3405.0" y1="283.7" x2="3426.8" y2="299.4" stroke="#F0A030" stroke-width="2"/><polygon points="3476.0,279.1 3495.8,279.1 3495.8,292.5" fill="#0C0C6A"/><line x1="3472.0" y1="278.1" x2="3493.8" y2="293.8" stroke="#F0A030" stroke-width="2"/><polygon points="3543.0,274.1 3562.8,274.1 3562.8,287.5" fill="#0C0C6A"/><line x1="3539.0" y1="273.1" x2="3560.8" y2="288.9" stroke="#F0A030" stroke-width="2"/><polygon points="3610.0,269.8 3629.8,269.8 3629.8,283.2" fill="#0C0C6A"/><line x1="3606.0" y1="268.8" x2="3627.8" y2="284.5" stroke="#F0A030" stroke-width="2"/><polygon points="3332.0,340.2 3353.1,340.2 3353.1,354.4" fill="#0C0C6A"/><line x1="3328.0" y1="339.2" x2="3351.1" y2="355.8" stroke="#F0A030" stroke-width="2"/><polygon points="3399.0,332.9 3420.1,332.9 3420.1,347.0" fill="#0C0C6A"/><line x1="3395.0" y1="331.9" x2="3418.1" y2="348.5" stroke="#F0A030" stroke-width="2"/><polygon points="3466.0,326.1 3487.1,326.1 3487.1,340.2" fill="#0C0C6A"/><line x1="3462.0" y1="325.1" x2="3485.1" y2="341.7" stroke="#F0A030" stroke-width="2"/><polygon points="3533.0,319.8 3554.1,319.8 3554.1,333.9" fill="#0C0C6A"/><line x1="3529.0" y1="318.8" x2="3552.1" y2="335.4" stroke="#F0A030" stroke-width="2"/><polygon points="3600.0,314.0 3621.1,314.0 3621.1,328.2" fill="#0C0C6A"/><line x1="3596.0" y1="313.0" x2="3619.1" y2="329.7" stroke="#F0A030" stroke-width="2"/><polygon points="3389.0,384.2 3411.4,384.2 3411.4,399.2" fill="#0C0C6A"/><line x1="3385.0" y1="383.2" x2="3409.4" y2="400.7" stroke="#F0A030" stroke-width="2"/><polygon points="3456.0,376.6 3478.4,376.6 3478.4,391.5" fill="#0C0C6A"/><line x1="3452.0" y1="375.6" x2="3476.4" y2="393.1" stroke="#F0A030" stroke-width="2"/><polygon points="3523.0,369.4 3545.4,369.4 3545.4,384.3" fill="#0C0C6A"/><line x1="3519.0" y1="368.4" x2="3543.4" y2="385.8" stroke="#F0A030" stroke-width="2"/><polygon points="3590.0,362.5 3612.4,362.5 3612.4,377.5" fill="#0C0C6A"/><line x1="3586.0" y1="361.5" x2="3610.4" y2="379.0" stroke="#F0A030" stroke-width="2"/><polygon points="3446.0,433.7 3469.8,433.7 3469.8,449.4" fill="#0C0C6A"/><line x1="3442.0" y1="432.7" x2="3467.8" y2="451.0" stroke="#F0A030" stroke-width="2"/><polygon points="3513.0,425.3 3536.8,425.3 3536.8,441.0" fill="#0C0C6A"/><line x1="3509.0" y1="424.3" x2="3534.8" y2="442.6" stroke="#F0A030" stroke-width="2"/><polygon points="3580.0,416.0 3603.8,416.0 3603.8,431.7" fill="#0C0C6A"/><line x1="3576.0" y1="415.0" x2="3601.8" y2="433.4" stroke="#F0A030" stroke-width="2"/><polygon points="3503.0,481.3 3528.2,481.3 3528.2,497.8" fill="#0C0C6A"/><line x1="3499.0" y1="480.3" x2="3526.2" y2="499.5" stroke="#F0A030" stroke-width="2"/><polygon points="3570.0,471.2 3595.2,471.2 3595.2,487.6" fill="#0C0C6A"/><line x1="3566.0" y1="470.2" x2="3593.2" y2="489.3" stroke="#F0A030" stroke-width="2"/><rect x="3527" y="555" width="102" height="42" fill="#80E650"/><line x1="3565" y1="555" x2="3565" y2="597" stroke="#50B030" stroke-width="2"/><line x1="2897.6" y1="430.7" x2="2838.3" y2="78" stroke="#6AE43A" stroke-width="2.5"/><line x1="2897.6" y1="430.7" x2="2888" y2="78" stroke="#6AE43A" stroke-width="2.5"/><line x1="2897.6" y1="430.7" x2="2895.8" y2="78" stroke="#6AE43A" stroke-width="2.5"/><line x1="2897.6" y1="430.7" x2="2942.7" y2="78" stroke="#6AE43A" stroke-width="2.5"/><line x1="3023" y1="507.8" x2="2950.4" y2="116.3" stroke="#6AE43A" stroke-width="2.5"/><line x1="3023" y1="507.8" x2="3005" y2="111.5" stroke="#6AE43A" stroke-width="2.5"/><line x1="3023" y1="507.8" x2="3012.6" y2="111.5" stroke="#6AE43A" stroke-width="2.5"/><line x1="3023" y1="507.8" x2="3068" y2="102" stroke="#6AE43A" stroke-width="2.5"/><line x1="3150.9" y1="575.5" x2="3070" y2="188" stroke="#6AE43A" stroke-width="2.5"/><line x1="3150.9" y1="575.5" x2="3122.8" y2="183.4" stroke="#6AE43A" stroke-width="2.5"/><line x1="3150.9" y1="575.5" x2="3132.3" y2="181.4" stroke="#6AE43A" stroke-width="2.5"/><line x1="3150.9" y1="575.5" x2="3185" y2="173.8" stroke="#6AE43A" stroke-width="2.5"/><line x1="3296" y1="596" x2="3248.4" y2="301.3" stroke="#6AE43A" stroke-width="2.5"/><line x1="3307.5" y1="596" x2="3299.3" y2="294.5" stroke="#6AE43A" stroke-width="2.5"/><line x1="3310.8" y1="596" x2="3307.5" y2="294.5" stroke="#6AE43A" stroke-width="2.5"/><line x1="3323" y1="596" x2="3365.8" y2="297.9" stroke="#6AE43A" stroke-width="2.5"/><line x1="3406.5" y1="596" x2="3365.8" y2="389.5" stroke="#6AE43A" stroke-width="2.5"/><line x1="3424.9" y1="596" x2="3418" y2="396.3" stroke="#6AE43A" stroke-width="2.5"/><line x1="3429.6" y1="596" x2="3426.2" y2="379.3" stroke="#6AE43A" stroke-width="2.5"/><line x1="3455.4" y1="596" x2="3482.5" y2="389.5" stroke="#6AE43A" stroke-width="2.5"/><line x1="3509.7" y1="596" x2="3486" y2="484.5" stroke="#6AE43A" stroke-width="2.5"/><line x1="3540" y1="596" x2="3535.5" y2="498" stroke="#6AE43A" stroke-width="2.5"/><line x1="3547" y1="596" x2="3545.7" y2="494.7" stroke="#6AE43A" stroke-width="2.5"/><line x1="3589.8" y1="596" x2="3599.3" y2="491.3" stroke="#6AE43A" stroke-width="2.5"/></g>
<circle cx="2897.6" cy="430.7" r="14.9" fill="#4DD818"/>
<circle cx="3023" cy="507.8" r="14.9" fill="#4DD818"/>
<circle cx="3150.9" cy="575.5" r="14.9" fill="#4DD818"/>
<line x1="2899.8" y1="465.4" x2="2984" y2="614" stroke="#0b0b0b" stroke-width="5"/>
<line x1="3022.6" y1="529.8" x2="3013.2" y2="606.9" stroke="#0b0b0b" stroke-width="5"/>
<line x1="3132.7" y1="600.3" x2="3039" y2="615" stroke="#0b0b0b" stroke-width="5"/>
<text x="2865.5" y="678">Overhead bin centroid</text>
<text x="2972" y="779">(c) Overhead bin</text>
</g>
</svg></body></html>
